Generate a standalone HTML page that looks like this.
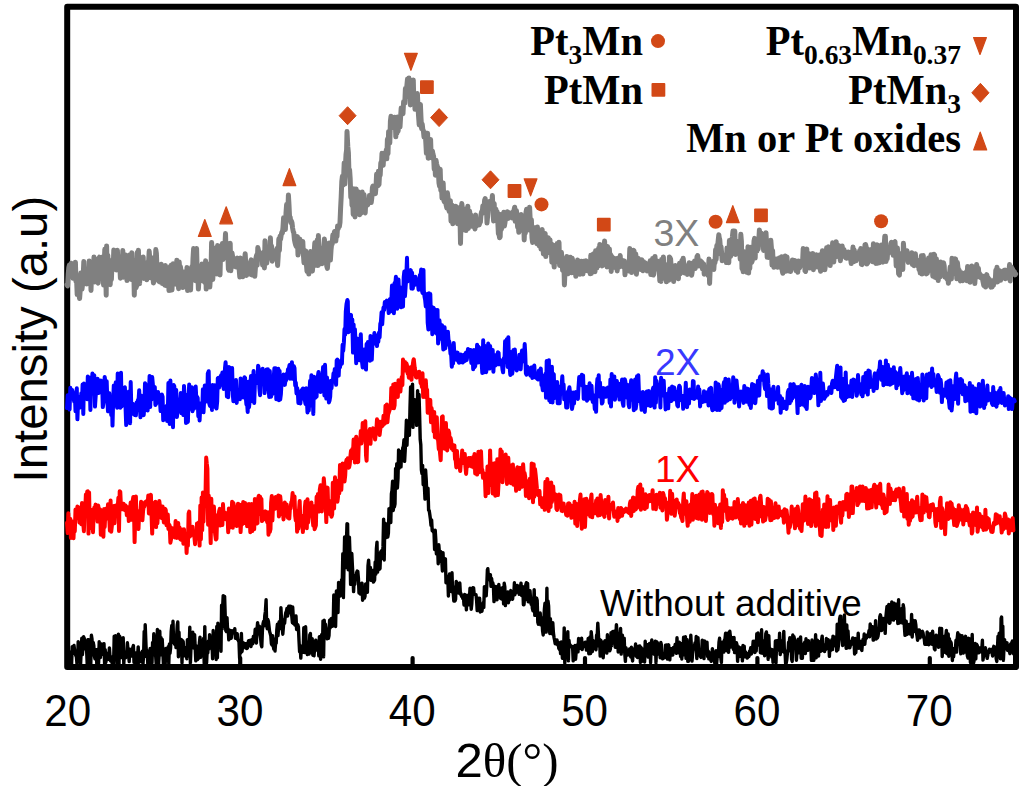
<!DOCTYPE html>
<html><head><meta charset="utf-8"><style>
html,body{margin:0;padding:0;background:#fff;}
body{width:1024px;height:786px;overflow:hidden;}
svg{display:block;}
</style></head><body>
<svg width="1024" height="786" viewBox="0 0 1024 786">
<rect width="1024" height="786" fill="#fff"/>
<rect x="67.2" y="6.8" width="948.8" height="660.3" fill="none" stroke="#000" stroke-width="6" stroke-linejoin="round"/>
<g fill="none" stroke-linejoin="round" stroke-linecap="round">
<polyline points="67.0,284.7 67.6,285.9 68.2,274.3 68.8,267.6 69.4,265.1 70.0,274.2 70.6,266.2 71.2,263.3 71.8,275.7 72.4,275.2 73.0,278.2 73.6,268.0 74.2,275.0 74.8,274.9 75.4,262.2 76.0,281.6 76.6,280.2 77.2,294.6 77.8,280.1 78.4,276.4 79.0,294.6 79.6,298.5 80.2,290.5 80.8,273.0 81.4,279.9 82.0,289.2 82.6,284.3 83.2,276.6 83.8,261.6 84.4,278.8 85.0,273.9 85.6,280.2 86.2,274.4 86.8,284.0 87.4,271.8 88.0,274.7 88.6,279.9 89.2,261.1 89.8,268.6 90.4,267.7 91.0,290.4 91.6,272.5 92.2,280.6 92.8,279.8 93.4,270.0 94.0,256.9 94.6,282.0 95.2,268.1 95.8,278.6 96.4,259.3 97.0,267.1 97.6,282.1 98.2,283.0 98.8,258.5 99.4,257.2 100.0,269.0 100.6,276.7 101.2,270.4 101.8,272.2 102.4,257.0 103.0,277.1 103.6,285.1 104.2,264.1 104.8,249.3 105.4,259.2 106.2,295.3 106.6,245.9 107.2,269.1 107.8,255.2 108.4,267.2 109.0,265.1 109.6,267.8 110.2,284.7 110.8,270.9 111.4,279.4 112.0,263.4 112.6,259.9 113.2,268.1 113.8,249.9 114.4,264.5 115.0,266.6 115.6,253.4 116.2,270.0 116.8,260.2 117.4,250.3 118.0,263.9 118.6,256.4 119.2,260.9 119.8,264.5 120.4,278.2 121.0,266.9 121.6,265.5 122.2,269.4 122.8,250.5 123.4,277.3 124.0,255.2 124.6,269.4 125.2,254.7 125.8,256.1 126.4,261.4 127.0,280.6 127.6,273.2 128.2,260.5 128.8,264.4 129.4,255.1 130.0,268.5 130.6,262.5 131.2,279.4 131.8,252.8 132.4,266.9 133.0,260.2 133.6,262.3 134.3,295.3 134.8,274.8 135.4,280.6 136.0,287.8 136.6,285.9 137.2,252.6 137.8,275.8 138.4,250.2 139.0,267.1 139.6,283.7 140.2,264.3 140.8,262.1 141.4,267.5 142.0,265.9 142.6,265.9 143.2,256.9 143.8,278.4 144.4,276.4 145.0,262.8 145.6,269.6 146.2,274.3 146.8,279.7 147.4,270.7 148.0,274.6 148.6,261.7 149.2,251.1 149.8,258.7 150.4,277.8 151.0,276.9 151.6,266.6 152.2,258.0 152.8,268.3 153.4,283.0 154.0,280.7 154.6,257.6 155.2,265.2 155.8,249.6 156.4,253.5 157.0,268.7 157.6,267.2 158.2,277.9 158.8,281.2 159.4,277.3 160.0,281.9 160.6,267.2 161.2,264.3 161.8,276.7 162.4,283.6 163.0,276.6 163.6,266.3 164.2,275.9 164.8,285.2 165.4,265.4 166.0,280.9 166.6,268.2 167.2,286.1 167.8,281.7 168.4,276.9 169.0,290.6 169.6,269.3 170.2,266.5 170.8,290.2 171.4,264.9 172.0,289.9 172.6,273.6 173.2,263.8 173.8,274.1 174.4,275.4 175.0,276.1 175.6,272.5 176.2,284.3 176.8,260.2 177.4,269.7 178.0,272.6 178.6,288.7 179.2,262.0 179.8,272.8 180.4,266.5 181.0,270.7 181.6,281.3 182.2,279.7 182.8,287.6 183.4,271.9 184.0,278.6 184.6,286.1 185.2,283.9 185.8,273.2 186.4,286.1 187.0,267.4 187.6,290.6 188.2,277.2 188.8,274.4 189.4,277.6 190.0,282.9 190.6,290.0 191.2,270.4 191.8,266.8 192.4,277.0 193.0,258.6 193.6,248.6 194.2,277.8 194.8,261.3 195.4,280.7 196.0,253.8 196.6,248.6 197.2,272.6 197.8,272.2 198.4,289.1 199.0,278.3 199.6,277.0 200.2,280.8 200.8,272.6 201.4,278.0 202.0,264.1 202.6,281.0 203.2,267.2 203.8,269.8 204.4,281.0 205.0,282.7 205.6,260.8 206.2,289.1 206.8,263.5 207.4,279.6 208.0,280.5 208.6,270.9 209.2,269.5 209.8,287.1 210.4,277.6 211.0,271.0 211.6,242.5 212.2,253.2 212.8,279.5 213.4,265.2 214.0,248.0 214.6,251.8 215.2,256.1 215.8,270.2 216.4,265.2 217.0,274.0 217.6,245.5 218.2,272.9 218.8,248.9 219.4,250.8 220.0,275.0 220.6,253.0 221.2,248.8 221.8,246.6 222.4,243.6 223.0,259.4 223.6,256.3 224.2,252.2 224.8,249.1 225.5,233.5 226.0,249.4 226.6,255.2 227.2,256.0 227.8,254.6 228.4,268.9 229.0,270.2 229.6,269.1 230.2,243.2 230.8,270.8 231.4,263.0 232.0,252.9 232.6,256.5 233.2,266.2 233.8,266.3 234.4,263.6 235.0,259.2 235.6,259.8 236.2,267.0 236.8,261.9 237.4,258.1 238.0,261.6 238.6,266.1 239.2,269.7 239.8,277.1 240.4,258.1 241.0,270.0 241.6,265.7 242.2,268.4 242.8,276.8 243.4,276.0 244.0,263.6 244.6,260.3 245.2,253.8 245.8,264.8 246.4,275.4 247.0,263.6 247.6,270.9 248.2,270.9 248.8,268.9 249.4,274.1 250.0,266.3 250.6,261.8 251.2,259.9 251.8,275.0 252.4,266.5 253.0,267.3 253.6,274.9 254.2,261.8 254.8,276.3 255.4,268.1 256.0,257.8 256.6,255.2 257.2,265.2 257.8,247.5 258.4,250.1 259.0,254.9 259.6,256.5 260.2,255.4 260.8,258.2 261.4,253.2 262.0,255.2 262.6,265.0 263.2,260.8 263.8,252.2 264.4,268.0 265.0,240.8 265.6,254.8 266.2,260.1 266.8,263.1 267.4,253.6 268.0,247.9 268.6,258.6 269.2,250.5 269.8,257.4 270.4,237.8 271.0,256.5 271.6,246.1 272.2,261.2 272.8,259.5 273.4,259.2 274.0,250.8 274.6,257.4 275.2,251.8 275.8,256.3 276.4,253.9 277.0,248.6 277.6,265.5 278.2,256.1 278.8,239.0 279.4,250.5 280.0,236.3 280.6,239.2 281.2,235.2 281.8,232.3 282.4,232.9 283.0,227.3 283.6,217.7 284.2,223.4 284.8,223.1 285.4,229.5 286.0,212.9 286.6,204.6 287.2,208.4 287.8,214.3 288.4,195.0 289.0,204.8 289.6,217.9 290.2,217.4 290.8,222.5 291.4,221.1 292.0,222.9 292.6,228.1 293.2,231.4 293.8,232.8 294.4,239.5 295.0,242.6 295.6,244.8 296.2,246.3 296.8,237.9 297.4,236.7 298.0,255.1 298.6,249.3 299.2,252.0 299.8,239.0 300.4,249.5 301.0,246.1 301.6,244.8 302.2,247.7 302.8,241.6 303.4,254.7 304.0,262.7 304.6,250.9 305.2,257.8 305.8,251.1 306.4,264.2 307.0,271.4 307.6,254.5 308.2,262.3 308.8,274.0 309.4,266.6 310.0,264.1 310.6,251.5 311.2,260.6 311.8,267.7 312.4,271.1 313.0,264.3 313.6,253.5 314.2,251.6 314.8,242.8 315.4,246.0 316.0,265.3 316.6,253.0 317.2,240.1 317.8,265.6 318.4,235.6 319.0,264.4 319.6,248.4 320.2,255.0 320.8,258.3 321.4,254.2 322.0,263.7 322.6,251.8 323.2,248.7 323.8,245.7 324.4,239.1 325.0,246.3 325.6,261.7 326.2,260.8 326.8,266.3 327.4,268.4 328.0,261.2 328.6,259.8 329.2,243.0 329.8,249.9 330.4,260.0 331.0,250.3 331.6,244.3 332.2,244.0 332.8,235.1 333.4,237.0 334.0,233.8 334.6,231.5 335.2,241.0 335.8,241.1 336.4,234.7 337.0,236.4 337.6,225.9 338.2,228.7 338.8,225.7 339.4,226.5 340.0,222.3 340.6,208.4 341.2,196.6 341.8,181.6 342.4,176.2 343.0,185.1 343.6,178.1 344.2,162.9 344.8,184.1 345.4,166.5 346.0,154.6 346.6,149.8 347.0,131.5 347.8,146.7 348.4,152.8 349.0,174.2 349.6,169.8 350.2,179.0 350.8,197.5 351.4,187.7 352.0,205.4 352.6,196.1 353.2,214.5 353.8,207.5 354.4,189.1 355.0,216.9 355.6,202.4 356.2,189.1 356.8,205.0 357.4,205.1 358.0,191.7 358.6,197.8 359.2,207.7 359.8,214.7 360.4,212.2 361.0,213.2 361.6,212.6 362.2,192.0 362.8,199.2 363.4,206.6 364.0,194.5 364.6,211.7 365.2,212.9 365.8,202.2 366.4,205.1 367.0,200.4 367.6,205.0 368.2,203.6 368.8,202.5 369.4,195.5 370.0,202.3 370.6,197.0 371.2,202.6 371.8,198.0 372.4,187.6 373.0,186.0 373.6,192.8 374.2,188.1 374.8,192.7 375.4,193.7 376.0,187.1 376.6,174.2 377.2,175.1 377.8,185.8 378.4,171.3 379.0,184.5 379.6,173.3 380.2,175.1 380.8,162.8 381.4,165.7 382.0,153.3 382.6,161.3 383.2,165.3 383.8,154.3 384.4,153.4 385.0,157.5 385.6,157.1 386.2,150.1 386.8,158.8 387.4,139.3 388.0,153.6 388.6,131.6 389.2,131.4 389.8,143.0 390.4,121.4 391.0,116.2 391.6,127.9 392.2,119.5 392.8,117.3 393.4,119.6 394.0,118.5 394.6,117.3 395.2,117.4 395.8,136.8 396.4,121.0 397.0,133.1 397.6,117.0 398.2,130.9 398.8,119.2 399.4,122.5 400.0,127.1 400.6,117.0 401.2,108.0 401.8,111.9 402.4,111.8 403.0,113.6 403.6,101.7 404.2,103.3 404.8,103.1 405.4,88.6 406.0,97.0 406.6,88.4 407.5,79.0 407.8,91.8 408.5,97.0 409.0,78.1 409.4,84.0 410.3,105.0 410.8,84.3 411.2,88.0 412.1,103.0 412.6,96.2 413.3,80.0 413.8,101.5 414.4,93.7 415.0,109.3 415.6,104.8 416.2,95.4 416.8,102.6 417.4,93.6 418.0,107.0 418.6,116.7 419.2,124.9 419.8,110.8 420.4,104.4 421.0,117.9 421.6,128.7 422.2,124.1 422.8,129.4 423.4,130.8 424.0,137.0 424.6,136.6 425.2,132.8 425.8,142.1 426.4,153.3 427.0,140.0 427.6,133.3 428.2,158.3 428.8,150.7 429.4,144.1 430.0,145.4 430.6,139.6 431.2,157.7 431.8,155.0 432.4,151.0 433.0,154.4 433.6,156.2 434.2,169.2 434.8,161.6 435.4,175.2 436.0,160.3 436.6,163.7 437.2,166.3 437.8,167.4 438.4,172.5 439.0,183.1 439.6,186.3 440.2,169.3 440.8,190.4 441.4,182.6 442.0,198.1 442.6,186.0 443.2,183.0 443.8,200.2 444.4,201.7 445.0,194.8 445.6,202.0 446.2,205.3 446.8,207.9 447.4,192.8 448.0,197.4 448.6,208.8 449.2,211.4 449.8,206.7 450.4,200.7 451.0,221.3 451.6,210.4 452.2,205.3 452.8,223.8 453.4,221.0 454.0,220.6 454.6,219.4 455.2,217.6 455.8,206.2 456.4,215.2 457.0,219.4 457.6,223.8 458.2,223.8 458.8,207.7 459.4,213.2 460.0,217.6 460.5,243.5 461.2,211.6 461.8,203.5 462.4,209.1 463.0,227.3 463.6,223.9 464.2,229.8 464.8,210.2 465.4,220.8 466.0,230.6 466.6,208.7 467.2,211.6 467.8,206.3 468.4,228.4 469.0,217.3 469.6,211.0 470.2,215.8 470.8,214.9 471.4,223.5 472.0,226.1 472.6,224.9 473.2,221.8 473.8,225.3 474.4,226.3 475.0,229.0 475.6,215.0 476.2,226.1 476.8,224.3 477.4,224.3 478.0,221.7 478.6,222.2 479.2,224.9 479.8,222.8 480.4,222.0 481.0,214.6 481.6,211.8 482.2,213.6 482.8,206.0 483.4,212.5 484.0,208.4 484.6,200.4 485.2,198.6 485.8,207.6 486.4,206.4 487.0,223.1 487.6,216.3 488.2,204.3 488.8,205.7 489.4,201.5 490.0,202.6 490.6,205.3 491.2,207.0 491.8,202.2 492.4,195.6 493.0,212.9 493.6,221.0 494.2,203.6 494.8,218.3 495.4,213.8 496.0,209.3 496.6,218.2 497.2,211.8 497.8,221.9 498.4,233.9 499.0,234.0 499.6,237.8 500.2,236.7 500.8,214.4 501.4,229.4 502.0,225.7 502.6,226.1 503.2,215.7 503.8,212.2 504.4,226.0 505.0,222.5 505.6,218.4 506.2,215.0 506.8,217.0 507.4,211.7 508.0,218.4 508.6,215.4 509.2,214.1 509.8,213.1 510.4,214.2 511.0,214.8 511.6,212.8 512.2,217.9 512.8,214.9 513.4,213.6 514.0,210.1 514.7,207.2 515.2,221.3 515.8,220.2 516.4,210.5 517.0,218.3 517.6,227.1 518.2,223.6 518.8,232.3 519.4,222.7 520.0,230.6 520.6,229.1 521.2,214.5 521.8,222.8 522.4,224.1 523.0,220.9 523.6,218.5 524.2,239.9 524.8,224.6 525.4,232.9 526.0,212.2 526.6,209.2 527.2,219.8 527.8,228.8 528.4,216.3 529.0,229.9 529.6,207.2 530.2,219.9 530.8,225.3 531.4,219.8 532.0,237.9 532.6,242.4 533.2,234.1 533.8,227.7 534.4,227.8 535.0,231.3 535.6,239.1 536.2,229.0 536.8,243.7 537.4,226.9 538.0,235.0 538.6,243.8 539.2,245.8 539.8,233.8 540.4,242.6 541.0,249.0 541.6,247.5 542.2,229.5 542.8,243.5 543.4,253.9 544.0,234.9 544.6,251.3 545.2,233.5 545.8,256.6 546.4,240.2 547.0,251.8 547.6,252.8 548.2,237.7 548.8,239.3 549.4,250.4 550.0,239.7 550.6,249.9 551.2,243.8 551.8,262.2 552.4,248.1 553.0,244.9 553.6,260.1 554.2,267.1 554.8,253.6 555.4,258.3 556.0,260.7 556.6,250.6 557.2,243.6 557.8,261.6 558.4,252.5 559.0,242.2 559.6,265.4 560.2,261.2 560.8,260.0 561.4,252.3 562.0,259.7 562.6,270.4 563.2,270.9 563.8,258.4 564.4,285.0 565.0,271.8 565.6,269.1 566.2,273.8 566.8,256.5 567.4,271.2 568.0,273.7 568.6,268.1 569.2,262.6 569.8,266.8 570.4,257.3 571.0,262.2 571.6,272.8 572.2,258.3 572.8,261.2 573.4,272.0 574.0,265.4 574.6,266.1 575.2,263.1 575.8,276.3 576.4,265.1 577.0,266.5 577.6,260.0 578.2,270.9 578.8,266.9 579.4,269.0 580.0,274.2 580.6,267.7 581.2,261.2 581.8,262.1 582.4,267.6 583.0,274.0 583.6,261.3 584.2,266.3 584.8,266.3 585.4,270.5 586.0,260.7 586.6,267.8 587.2,270.6 587.8,264.6 588.4,263.7 589.0,268.8 589.6,268.4 590.2,273.7 590.8,255.3 591.4,273.4 592.0,261.9 592.6,254.6 593.2,259.2 593.8,253.7 594.4,261.9 595.0,271.8 595.6,250.8 596.2,253.3 596.8,268.0 597.4,258.4 598.0,266.1 598.6,248.3 599.2,257.4 599.8,244.4 600.4,249.2 601.0,260.6 601.6,263.3 602.2,265.9 602.8,253.1 603.4,246.6 604.0,250.2 604.6,241.0 605.2,263.0 605.8,261.7 606.4,247.3 607.0,267.0 607.6,246.6 608.2,261.9 608.8,253.1 609.4,248.9 610.0,264.4 610.6,254.4 611.2,271.4 611.8,256.5 612.4,263.4 613.0,259.4 613.6,263.3 614.2,258.3 614.8,267.4 615.4,265.9 616.0,262.4 616.6,261.1 617.2,270.9 617.8,258.2 618.4,260.1 619.0,267.2 619.6,263.4 620.2,255.6 620.8,263.6 621.4,262.8 622.0,260.3 622.6,266.6 623.2,260.7 623.8,265.4 624.4,260.9 625.0,274.8 625.6,264.2 626.2,268.5 626.8,267.3 627.4,270.4 628.0,263.5 628.6,270.9 629.2,265.2 629.8,248.5 630.4,266.7 631.0,250.3 631.6,272.6 632.2,265.4 632.8,260.1 633.4,250.2 634.0,250.8 634.6,254.5 635.2,260.7 635.8,254.1 636.4,274.3 637.0,266.9 637.6,263.6 638.2,258.2 638.8,262.5 639.4,263.4 640.0,262.5 640.6,265.1 641.2,269.6 641.8,259.8 642.4,267.4 643.0,270.7 643.6,261.8 644.2,266.1 644.8,265.5 645.4,263.0 646.0,270.3 646.6,266.0 647.2,271.0 647.8,268.6 648.4,266.4 649.0,268.5 649.6,266.1 650.2,260.8 650.8,274.6 651.4,269.8 652.0,274.6 652.6,258.6 653.2,275.1 653.8,274.1 654.4,268.2 655.0,256.4 655.6,269.6 656.2,263.1 656.8,267.2 657.4,269.3 658.0,261.3 658.6,267.8 659.2,269.0 659.8,280.8 660.4,268.1 661.0,281.4 661.6,259.5 662.2,267.8 662.8,278.5 663.4,256.9 664.0,273.6 664.6,272.1 665.2,264.5 665.8,267.4 666.4,281.8 667.0,266.0 667.6,272.0 668.2,273.5 668.8,280.2 669.4,256.9 670.0,257.7 670.6,259.0 671.2,268.1 671.8,275.4 672.4,276.9 673.0,268.3 673.6,281.5 674.2,269.9 674.8,275.1 675.4,265.5 676.0,275.7 676.6,266.1 677.2,277.1 677.8,275.2 678.4,278.8 679.0,267.6 679.6,263.2 680.2,273.8 680.8,270.6 681.4,265.5 682.0,260.4 682.6,272.3 683.2,258.2 683.8,264.2 684.4,272.9 685.0,265.4 685.6,270.0 686.2,270.5 686.8,271.4 687.4,274.4 688.0,272.4 688.6,267.1 689.2,262.8 689.8,268.3 690.4,266.7 691.0,272.1 691.6,275.3 692.2,271.8 692.8,263.1 693.4,266.5 694.0,264.5 694.6,261.0 695.2,268.5 695.8,264.7 696.4,263.5 697.0,256.7 697.6,255.5 698.2,259.0 698.8,265.9 699.4,261.1 700.0,261.7 700.6,261.0 701.2,263.1 701.8,262.1 702.4,268.7 703.0,263.6 703.6,263.9 704.2,274.2 704.8,271.9 705.4,273.1 706.0,273.3 706.6,269.6 707.2,273.0 707.8,275.2 708.4,272.2 709.0,259.1 709.6,283.5 710.2,268.9 710.8,267.1 711.4,267.6 712.0,263.8 712.6,261.8 713.2,265.5 713.8,269.5 714.4,260.9 715.0,262.6 715.6,249.7 716.2,259.3 716.8,245.5 717.4,254.1 718.0,242.6 718.8,234.7 719.2,237.5 719.8,239.9 720.4,248.2 721.0,246.5 721.6,252.6 722.2,260.8 722.8,254.4 723.4,258.7 724.0,258.9 724.6,255.1 725.2,256.9 725.8,257.6 726.4,262.6 727.0,247.9 727.6,250.8 728.2,250.1 728.8,262.8 729.4,240.6 730.0,251.3 730.6,256.4 731.2,254.0 731.8,240.7 732.4,236.8 733.0,230.9 733.6,240.3 734.2,243.1 734.8,231.1 735.4,254.4 736.0,247.9 736.6,244.1 737.2,241.4 737.8,251.8 738.4,244.3 739.0,252.6 739.6,242.7 740.2,259.2 740.8,234.3 741.4,241.2 742.0,268.8 742.6,265.3 743.2,271.8 743.8,251.4 744.4,265.4 745.0,267.9 745.6,267.2 746.2,257.0 746.8,272.3 747.4,262.5 748.0,246.7 748.6,273.1 749.2,259.0 749.8,268.4 750.4,250.2 751.0,247.4 751.6,262.5 752.2,261.1 752.8,247.1 753.4,254.7 754.0,241.0 754.6,238.4 755.2,258.1 755.8,239.4 756.4,251.1 757.0,251.1 757.6,244.6 758.2,249.1 758.8,240.6 759.4,230.0 760.0,237.4 760.6,240.1 761.2,240.3 761.8,233.6 762.4,239.1 763.0,237.6 763.6,250.4 764.2,249.1 764.8,236.7 765.4,247.0 766.0,232.7 766.6,245.1 767.2,257.3 767.8,247.2 768.4,257.4 769.0,245.5 769.6,253.1 770.2,253.5 770.8,240.3 771.4,247.6 772.0,265.1 772.6,250.6 773.2,264.4 773.8,267.3 774.4,259.5 775.0,266.2 775.6,263.7 776.2,259.0 776.8,267.0 777.4,267.2 778.0,259.0 778.6,263.3 779.2,258.0 779.8,265.7 780.4,267.3 781.0,260.7 781.6,256.7 782.2,270.4 782.8,273.3 783.4,260.1 784.0,265.3 784.6,260.9 785.2,256.0 785.8,271.2 786.4,264.9 787.0,256.9 787.6,269.9 788.2,267.5 788.8,270.9 789.4,267.8 790.0,267.0 790.6,271.5 791.2,263.4 791.8,266.0 792.4,259.9 793.0,260.3 793.6,266.7 794.2,267.1 794.8,260.6 795.4,268.2 796.0,270.5 796.6,262.7 797.2,265.0 797.8,272.2 798.4,261.1 799.0,267.1 799.6,267.8 800.2,264.0 800.8,263.2 801.4,265.3 802.0,262.9 802.6,261.4 803.2,248.5 803.8,260.9 804.4,252.7 805.0,270.8 805.6,271.4 806.2,268.0 806.8,248.9 807.4,267.3 808.0,261.5 808.6,253.9 809.2,253.7 809.8,268.1 810.4,258.0 811.0,261.6 811.6,262.6 812.2,267.8 812.8,253.5 813.4,269.7 814.0,258.2 814.6,260.7 815.2,266.6 815.8,265.4 816.4,254.8 817.0,267.0 817.6,263.0 818.2,258.4 818.8,260.8 819.4,255.0 820.0,267.6 820.6,271.3 821.2,257.9 821.8,258.1 822.4,250.7 823.0,254.9 823.6,251.8 824.2,258.6 824.8,269.8 825.4,265.4 826.0,264.4 826.6,247.8 827.2,262.3 827.8,248.5 828.4,246.8 829.0,259.9 829.6,252.6 830.2,265.6 830.8,254.2 831.4,249.9 832.0,257.5 832.6,242.8 833.2,256.0 833.8,261.9 834.4,249.3 835.0,246.3 835.6,257.1 836.2,241.7 836.8,251.1 837.4,245.8 838.0,251.5 838.6,245.6 839.2,254.4 839.8,254.7 840.4,260.7 841.0,250.8 841.6,255.6 842.2,246.1 842.8,250.7 843.4,256.3 844.0,249.6 844.6,255.8 845.2,252.3 845.8,258.0 846.4,258.2 847.0,253.1 847.6,258.0 848.2,252.1 848.8,254.9 849.4,256.6 850.0,257.2 850.6,257.8 851.2,263.5 851.8,252.0 852.4,255.0 853.0,247.1 853.6,261.8 854.2,250.0 854.8,253.5 855.4,254.3 856.0,260.8 856.6,256.5 857.2,256.8 857.8,259.1 858.4,256.0 859.0,258.1 859.6,250.8 860.2,253.8 860.8,248.5 861.4,264.3 862.0,264.6 862.6,262.6 863.2,259.9 863.8,252.0 864.4,260.6 865.0,244.6 865.6,244.5 866.2,247.1 866.8,264.1 867.4,255.6 868.0,262.6 868.6,249.4 869.2,258.0 869.8,260.2 870.4,257.5 871.0,253.7 871.6,258.3 872.2,249.0 872.8,261.8 873.4,243.8 874.0,246.1 874.6,251.5 875.2,245.3 875.8,263.5 876.4,256.3 877.0,244.8 877.6,263.2 878.2,261.4 878.8,247.2 879.4,262.7 880.0,259.5 880.6,245.7 881.2,245.1 881.8,252.0 882.4,258.6 883.0,262.1 883.6,261.5 884.2,245.2 884.8,236.2 885.4,236.2 886.0,261.6 886.6,257.8 887.2,258.9 887.8,248.9 888.4,249.7 889.0,252.6 889.6,252.2 890.2,249.7 890.8,243.7 891.4,242.3 892.0,250.0 892.6,248.7 893.2,255.3 893.8,245.2 894.4,242.3 895.0,241.7 895.6,252.3 896.2,266.0 896.8,251.0 897.4,247.9 898.0,259.5 898.6,273.7 899.4,275.0 899.8,267.6 900.4,267.4 901.0,253.5 901.6,257.2 902.2,260.0 902.8,269.4 903.4,243.3 904.0,251.5 904.6,257.6 905.2,253.6 905.8,254.3 906.4,253.9 907.0,250.7 907.6,258.4 908.2,262.4 908.8,254.8 909.4,258.8 910.0,262.0 910.6,254.6 911.2,257.3 911.8,252.7 912.4,264.5 913.0,264.6 913.6,258.2 914.2,265.7 914.8,263.5 915.4,253.8 916.0,263.2 916.6,262.7 917.2,264.4 917.8,265.9 918.4,260.8 919.0,269.5 919.6,265.8 920.2,273.0 920.8,263.9 921.4,255.7 922.0,274.1 922.6,268.4 923.2,255.6 923.8,261.6 924.4,260.5 925.0,271.8 925.6,261.8 926.2,273.9 926.8,262.8 927.4,273.2 928.0,262.1 928.6,257.9 929.2,270.2 929.8,264.3 930.4,269.4 931.0,254.7 931.6,258.2 932.2,262.9 932.8,276.2 933.4,267.9 934.0,254.3 934.6,254.9 935.2,277.5 935.8,269.4 936.4,258.8 937.0,275.2 937.6,274.8 938.2,280.5 938.8,271.4 939.4,267.2 940.0,277.0 940.6,262.1 941.2,268.8 941.8,265.2 942.4,268.6 943.0,263.8 943.6,262.9 944.2,265.7 944.8,277.1 945.4,274.8 946.0,274.4 946.6,278.2 947.2,279.3 947.8,276.5 948.4,283.2 949.0,273.4 949.6,273.2 950.2,266.9 950.8,277.0 951.4,278.9 952.0,258.3 952.6,273.9 953.2,260.5 953.8,269.8 954.4,267.6 955.0,258.8 955.6,259.0 956.2,266.9 956.8,278.8 957.4,262.4 958.0,268.1 958.6,269.5 959.2,270.3 959.8,278.6 960.4,280.9 961.0,273.2 961.6,275.7 962.2,273.0 962.8,280.7 963.4,275.0 964.0,277.8 964.6,275.6 965.2,279.3 965.8,275.2 966.4,271.7 967.0,280.8 967.6,266.4 968.2,273.9 968.8,270.6 969.4,267.2 970.0,282.2 970.6,274.7 971.2,269.6 971.8,266.0 972.4,275.1 973.0,272.5 973.6,270.6 974.2,267.5 974.8,283.6 975.4,274.0 976.0,271.2 976.6,264.5 977.2,267.7 977.8,276.8 978.4,268.3 979.0,276.3 979.6,273.4 980.2,276.9 980.8,277.7 981.4,275.7 982.0,277.6 982.6,279.4 983.2,282.5 983.8,285.5 984.4,284.0 985.0,276.0 985.6,287.0 986.2,278.8 986.8,274.6 987.4,278.8 988.0,277.5 988.6,280.2 989.2,279.1 989.8,279.8 990.4,286.2 991.0,287.2 991.6,282.3 992.2,287.0 992.8,284.4 993.4,285.4 994.0,280.4 994.6,279.5 995.2,282.5 995.8,270.2 996.4,276.4 997.0,267.2 997.6,282.0 998.2,276.9 998.8,279.1 999.4,273.3 1000.0,270.9 1000.6,280.2 1001.2,273.0 1001.8,274.0 1002.4,275.1 1003.0,276.9 1003.6,275.0 1004.2,270.2 1004.8,270.1 1005.4,278.8 1006.0,273.1 1006.6,273.4 1007.2,270.4 1007.8,278.0 1008.4,275.7 1009.0,270.4 1009.6,264.6 1010.2,281.0 1010.8,269.3 1011.4,267.0 1012.0,270.7 1012.6,269.0 1013.2,273.3 1013.8,272.3 1014.4,271.7 1015.0,274.9 1015.6,273.9" stroke="#808080" stroke-width="5.0"/>
<polyline points="67.0,408.1 67.7,395.2 68.3,403.2 69.0,402.2 69.6,409.5 70.3,387.7 70.9,398.3 71.6,394.5 72.2,390.1 72.9,393.1 73.5,398.0 74.2,401.5 74.8,392.9 75.5,411.2 76.1,398.4 76.8,388.3 77.4,419.3 78.1,400.8 78.7,397.1 79.4,407.8 80.0,406.6 80.7,403.7 81.3,393.2 82.0,402.9 82.6,384.5 83.3,414.0 83.9,383.6 84.6,394.1 85.2,395.4 85.9,396.6 86.5,390.9 87.2,399.2 87.8,376.5 88.5,390.1 89.1,389.1 89.8,385.3 90.4,410.0 91.1,377.3 91.7,388.9 92.4,373.6 93.0,393.4 93.7,374.9 94.3,375.5 95.0,406.6 95.6,397.1 96.3,390.0 96.9,391.6 97.6,378.7 98.2,382.3 98.9,393.0 99.5,380.8 100.2,391.9 100.8,380.4 101.5,391.9 102.1,381.5 102.8,407.1 103.4,403.0 104.1,386.2 104.7,377.0 105.4,382.1 106.0,393.2 106.7,381.2 107.3,400.2 108.0,411.3 108.6,397.6 109.3,393.2 109.9,411.7 110.6,397.3 111.2,415.0 111.9,399.1 112.5,425.6 113.2,398.9 113.8,385.4 114.5,401.9 115.1,388.8 115.8,382.2 116.4,394.1 117.1,407.7 117.7,373.6 118.4,391.4 118.7,375.0 119.7,389.6 120.3,407.7 121.0,372.7 121.6,406.5 122.3,390.5 122.9,397.5 123.6,391.9 124.2,390.4 124.9,387.2 125.5,406.0 126.2,425.1 126.8,420.0 127.5,416.8 128.1,411.5 128.8,391.5 129.4,411.1 130.1,423.2 130.7,382.0 131.4,412.2 132.0,413.8 132.7,403.8 133.3,409.0 134.0,414.1 134.6,414.9 135.3,412.9 135.9,415.3 136.6,402.4 137.2,408.2 137.9,399.9 138.5,401.1 139.2,390.2 139.8,406.2 140.5,417.3 141.1,395.4 141.8,402.3 142.4,408.7 143.1,400.4 143.7,415.2 144.4,405.6 145.0,383.3 145.7,384.6 146.3,408.7 147.0,405.8 147.6,410.6 148.3,397.8 148.9,395.9 149.6,375.9 150.2,407.0 150.9,379.1 151.5,399.5 152.2,377.1 152.8,383.6 153.5,393.5 154.1,388.6 154.8,387.0 155.4,404.9 156.1,403.8 156.7,402.1 157.4,395.8 158.0,391.9 158.7,395.9 159.3,395.8 160.0,401.7 160.6,411.0 161.3,401.2 161.9,394.5 162.6,396.9 163.2,420.2 163.9,407.4 164.5,408.2 165.2,408.6 165.8,412.6 166.5,406.1 167.1,421.0 167.8,415.7 168.4,383.1 169.1,400.6 169.7,423.9 170.4,380.5 171.0,404.0 171.7,421.6 172.3,404.1 173.0,427.2 173.6,384.9 174.3,386.4 174.9,405.5 175.6,396.1 176.2,390.1 176.9,417.1 177.5,411.7 178.2,406.9 178.8,399.5 179.5,410.3 180.1,403.5 180.8,393.1 181.4,413.3 182.1,410.6 182.7,405.5 183.4,415.1 184.0,385.9 184.7,400.9 185.3,394.6 186.0,423.0 186.6,410.2 187.3,422.2 187.9,421.7 188.6,395.6 189.2,384.6 189.9,408.7 190.5,397.6 191.2,399.8 191.8,387.2 192.5,411.3 193.1,405.7 193.8,409.0 194.4,408.0 195.1,392.0 195.7,386.5 196.4,401.2 197.0,396.8 197.7,398.0 198.3,416.3 199.0,403.0 199.6,420.5 200.3,405.8 200.9,411.3 201.6,408.9 202.2,411.8 202.9,389.2 203.5,412.3 204.2,399.4 204.8,385.4 205.5,399.6 206.1,394.3 206.8,401.6 207.4,393.2 207.8,373.4 208.7,371.2 209.4,404.0 210.0,406.0 210.7,400.6 211.3,398.6 212.0,409.9 212.6,384.9 213.3,407.1 213.9,399.6 214.6,385.3 215.2,401.3 215.9,399.3 216.5,408.6 217.2,401.2 217.8,378.2 218.5,377.8 219.1,387.5 219.8,385.4 220.4,380.5 221.1,375.2 221.7,381.7 222.4,372.4 223.0,374.5 223.7,389.0 224.3,381.7 225.0,368.3 225.6,362.3 226.3,375.1 226.9,396.4 227.6,370.9 228.2,397.2 228.9,367.1 229.5,375.6 230.2,389.2 230.8,368.0 231.5,382.8 232.1,367.9 232.8,394.6 233.4,401.3 234.1,386.7 234.7,394.5 235.4,389.3 236.0,380.1 236.7,402.9 237.3,395.1 238.0,395.6 238.6,392.1 239.3,390.2 239.9,399.2 240.6,378.5 241.2,387.6 241.9,386.9 242.5,388.9 243.2,397.4 243.8,384.4 244.5,377.3 245.1,378.0 245.8,397.1 246.4,404.4 247.1,403.2 247.7,411.9 248.4,381.7 249.0,407.3 249.7,400.9 250.3,386.0 251.0,375.9 251.6,400.9 252.3,376.1 252.9,381.4 253.6,371.1 254.2,403.0 254.9,382.9 255.5,376.3 256.2,379.0 256.8,379.0 257.5,383.1 258.1,365.7 258.8,368.8 259.4,388.6 260.1,395.2 260.7,371.9 261.4,384.6 262.0,377.4 262.7,368.8 263.3,380.8 264.0,373.3 264.6,393.1 265.3,382.2 265.9,383.7 266.6,369.5 267.2,385.2 267.9,369.2 268.5,385.6 269.2,397.0 269.8,371.1 270.5,391.4 271.1,396.7 271.8,380.7 272.4,394.0 273.1,383.8 273.7,378.0 274.4,368.2 275.0,371.9 275.7,368.2 276.3,399.2 277.0,386.7 277.6,382.0 278.3,368.8 278.9,400.3 279.6,370.9 280.2,399.4 280.9,393.9 281.5,383.5 282.2,377.5 282.8,381.5 283.5,374.6 284.1,383.3 284.8,384.8 285.4,381.2 286.1,380.3 286.7,373.8 287.4,375.3 288.0,369.3 288.7,369.6 289.5,365.0 290.0,378.7 290.6,372.5 291.3,374.0 291.9,362.2 292.6,378.8 293.2,369.0 293.9,366.3 294.5,368.2 295.2,385.5 295.8,382.6 296.5,393.4 297.1,387.9 297.8,391.5 298.4,403.0 299.1,398.9 299.7,398.9 300.4,403.4 301.0,396.3 301.7,390.0 302.3,391.7 302.9,388.4 303.6,398.6 304.2,394.4 304.9,400.5 305.5,403.9 306.2,388.3 306.8,398.5 307.5,412.5 308.1,397.3 308.8,410.5 309.4,392.8 310.1,380.8 310.7,391.9 311.4,375.3 312.0,405.6 312.7,387.2 313.3,413.9 314.0,376.7 314.6,395.7 315.3,397.9 315.9,389.6 316.6,396.7 317.2,380.9 317.9,376.1 318.5,372.0 319.2,381.5 319.8,377.7 320.5,392.0 321.1,383.1 321.8,378.3 322.4,376.6 323.1,366.9 323.7,381.8 324.4,395.5 325.0,364.7 325.7,383.4 326.3,398.6 327.0,377.5 327.6,390.1 328.3,382.3 328.9,402.5 329.6,400.3 330.2,396.6 330.9,380.7 331.5,388.3 332.2,380.3 332.8,381.8 333.5,373.3 334.1,376.4 334.8,369.0 335.4,375.7 336.1,384.8 336.7,360.4 337.4,359.5 338.0,374.4 338.7,375.6 339.3,361.9 340.0,367.3 340.6,362.6 341.3,360.5 341.9,363.8 342.6,344.7 343.2,350.9 343.9,342.2 344.5,329.0 345.2,334.6 345.8,311.4 346.5,304.2 347.4,300.0 347.8,301.3 348.4,332.3 349.1,331.2 349.7,317.6 350.4,317.2 351.0,314.9 351.7,331.2 352.3,319.6 353.0,352.6 353.6,324.4 354.3,343.3 354.9,329.2 355.6,343.0 356.2,363.3 356.9,342.7 357.5,338.7 358.2,343.2 358.8,353.7 359.5,360.2 360.1,347.3 360.8,334.3 361.4,354.7 362.1,362.6 362.7,367.6 363.4,354.9 364.0,355.5 364.7,349.3 365.3,362.1 366.0,369.6 366.6,344.1 367.3,355.9 367.9,342.0 368.6,345.9 369.2,352.4 369.9,360.7 370.5,336.0 371.2,339.2 371.8,359.7 372.5,342.5 373.1,344.4 373.8,340.2 374.4,333.1 375.1,341.6 375.7,343.1 376.4,338.1 377.0,346.0 377.7,335.3 378.3,341.8 379.0,332.6 379.6,337.3 380.3,323.8 380.9,321.9 381.6,312.2 382.2,324.3 382.9,313.6 383.5,307.4 384.2,309.8 384.8,302.1 385.5,307.1 386.1,304.6 386.8,300.6 387.4,306.3 388.1,303.5 388.7,313.1 389.4,300.1 390.0,299.1 390.7,311.4 391.3,301.6 392.0,285.5 392.6,302.2 393.3,289.2 393.9,313.2 394.6,282.9 395.2,285.4 395.9,276.8 396.5,284.5 397.2,308.8 397.8,290.3 398.5,279.5 399.1,294.7 399.8,287.0 400.4,289.8 401.1,307.3 401.7,307.0 402.4,306.7 403.0,306.5 403.7,277.2 404.3,271.6 405.0,296.0 405.6,286.8 406.3,277.4 407.0,257.7 407.6,281.5 408.2,279.6 408.9,276.1 409.5,279.0 410.2,271.5 410.8,270.2 411.5,288.6 412.1,272.8 412.8,288.7 413.4,281.7 414.1,278.0 414.7,284.9 415.4,276.8 416.0,279.3 416.7,279.9 417.3,281.6 418.0,284.3 418.6,289.8 419.3,285.2 419.9,274.9 420.6,275.9 421.2,269.4 421.9,290.2 422.5,292.9 423.5,270.0 423.8,290.2 424.5,296.5 425.1,299.5 425.8,306.5 426.4,305.3 427.1,294.0 427.7,322.9 428.4,329.6 429.0,293.3 429.7,308.3 430.3,294.0 431.0,320.1 431.6,306.8 432.3,334.2 432.9,333.3 433.6,307.8 434.2,310.0 434.9,310.7 435.5,331.9 436.2,310.1 436.8,333.7 437.5,309.9 438.1,343.5 438.8,337.0 439.4,320.2 440.1,326.6 440.7,336.8 441.4,338.9 442.0,325.2 442.7,338.9 443.3,349.5 444.0,334.3 444.6,327.3 445.3,348.4 445.9,340.7 446.6,340.6 447.2,344.5 447.9,331.7 448.5,340.2 449.2,341.3 449.8,345.7 450.5,353.9 451.1,353.4 451.8,366.7 452.4,360.7 453.1,363.5 453.7,342.9 454.4,354.6 455.0,355.4 455.7,357.8 456.3,359.6 457.0,352.5 457.6,352.6 458.3,361.0 458.9,362.7 459.6,362.6 460.2,356.3 460.9,354.7 461.5,357.8 462.2,358.8 462.8,362.6 463.5,356.5 464.1,354.8 464.8,361.0 465.4,353.8 466.1,352.5 466.7,360.0 467.4,355.5 468.0,348.9 468.7,354.4 469.3,352.8 470.0,354.4 470.6,350.0 471.3,362.9 471.9,354.4 472.6,352.5 473.2,369.2 473.9,350.1 474.5,367.2 475.2,366.1 475.8,357.6 476.5,362.7 477.1,344.7 477.8,362.6 478.4,346.8 479.1,348.1 479.7,362.0 480.4,348.2 481.0,359.7 481.7,363.5 482.3,372.9 483.2,340.3 483.6,372.5 484.3,345.5 484.9,351.3 485.6,365.5 486.2,372.2 486.9,362.2 487.5,349.8 488.2,343.6 488.8,345.5 489.5,368.6 490.1,345.9 490.8,354.2 491.4,363.4 492.1,361.5 492.7,350.0 493.4,371.7 494.0,359.1 494.7,360.3 495.3,365.5 496.0,355.1 496.6,364.6 497.3,357.8 497.9,352.3 498.6,352.8 499.2,364.3 499.9,362.9 500.5,361.7 501.2,360.5 501.8,362.6 502.5,369.5 503.1,372.3 503.8,358.3 504.4,362.9 505.1,341.2 505.7,341.1 506.4,345.5 506.8,339.3 507.7,367.0 508.3,337.2 509.0,363.8 509.6,366.4 510.3,374.9 510.9,351.9 511.6,363.3 512.2,373.7 512.9,368.3 513.5,349.9 514.2,356.0 514.8,349.4 515.5,360.4 516.1,365.5 516.8,370.4 517.4,364.5 518.1,366.8 518.7,368.4 519.4,354.7 520.0,366.3 520.7,369.2 521.3,358.7 522.0,350.6 522.6,359.1 523.3,357.8 523.9,361.4 524.7,344.0 525.2,353.4 525.9,373.4 526.5,374.7 527.2,366.5 527.8,369.2 528.5,373.1 529.1,368.8 529.8,372.5 530.4,375.5 531.1,367.4 531.7,375.4 532.4,377.9 533.0,367.1 533.7,373.0 534.3,365.6 535.0,376.5 535.6,377.6 536.3,373.3 536.9,376.6 537.6,379.1 538.2,379.5 538.9,370.4 539.5,375.0 540.2,370.1 540.8,368.5 541.5,385.1 542.1,384.8 542.8,390.2 543.4,387.6 544.1,375.8 544.7,382.7 545.4,373.8 546.0,397.7 546.7,361.0 547.3,385.7 548.0,370.2 548.9,360.3 549.3,400.4 549.9,370.6 550.6,402.1 551.2,398.8 551.9,366.7 552.5,402.5 553.2,373.7 553.8,374.3 554.5,398.0 555.1,384.6 555.8,393.3 556.4,390.9 557.1,381.9 557.7,403.2 558.4,403.2 559.0,389.0 559.7,403.2 560.3,386.6 561.0,390.5 561.6,385.6 562.3,376.3 562.9,388.7 563.6,384.5 564.2,399.3 564.9,398.4 565.5,392.9 566.2,407.4 566.8,399.0 567.5,407.4 568.1,391.4 568.8,390.6 569.4,387.3 570.1,393.7 570.7,392.2 571.4,395.0 572.0,409.0 572.7,404.6 573.3,392.6 574.0,403.5 574.6,395.0 575.3,392.8 575.9,392.0 576.6,393.0 577.2,397.0 577.9,398.9 578.5,387.4 579.2,377.1 579.8,383.4 580.5,381.2 581.1,381.8 581.8,374.7 582.4,385.6 583.1,375.5 583.7,398.7 584.4,395.6 585.0,396.6 585.7,386.8 586.3,394.2 587.0,400.7 587.6,391.6 588.3,386.6 588.9,392.4 589.6,383.3 590.2,398.6 590.9,395.8 591.5,385.7 592.2,397.7 592.8,401.9 593.5,398.7 594.1,399.7 594.8,409.1 595.4,395.0 596.1,411.8 596.7,387.9 597.4,378.8 598.0,385.8 598.7,375.3 599.3,396.5 600.0,382.5 600.6,395.1 601.3,394.1 601.9,403.6 602.6,402.2 603.2,387.9 603.9,390.2 604.5,390.3 605.2,388.6 605.8,396.8 606.5,394.5 607.1,390.6 607.8,387.6 608.4,388.4 609.1,391.3 609.7,402.9 610.4,379.4 611.0,406.4 611.7,374.0 612.3,396.0 613.0,376.7 613.6,386.9 614.3,376.4 614.9,399.8 615.6,394.0 616.2,383.9 616.9,381.0 617.5,394.5 618.2,395.4 618.8,383.8 619.5,399.6 620.1,394.1 620.8,384.0 621.4,386.7 622.1,379.4 622.7,402.6 623.4,405.8 624.0,391.8 624.7,379.2 625.3,381.1 626.0,390.8 626.6,384.4 627.3,397.7 627.9,385.0 628.6,404.3 629.2,407.2 629.9,388.6 630.5,386.6 631.2,380.3 631.8,395.6 632.5,399.8 633.1,384.1 633.8,410.2 634.4,387.0 635.1,379.6 635.7,408.7 636.4,403.8 637.0,376.2 637.7,385.4 638.3,375.3 639.0,393.9 639.6,401.1 640.3,392.5 640.9,401.4 641.6,409.8 642.2,397.9 642.9,391.9 643.5,395.5 644.2,406.6 644.8,411.9 645.5,398.3 646.1,401.8 646.8,391.4 647.4,392.4 648.1,405.3 648.7,391.1 649.4,396.9 650.0,395.9 650.7,406.0 651.3,396.4 652.0,393.1 652.6,390.3 653.3,387.5 653.9,403.3 654.6,407.6 655.2,377.2 655.9,402.6 656.5,380.8 657.2,384.5 657.8,387.8 658.5,386.7 659.1,387.7 659.8,385.7 660.4,407.5 661.1,377.8 661.7,386.1 662.4,385.2 663.0,395.4 663.7,380.7 664.3,393.9 665.0,395.5 665.6,409.4 666.3,401.1 666.9,394.1 667.6,395.6 668.2,408.3 668.9,393.5 669.5,388.5 670.2,389.1 670.8,391.2 671.5,401.0 672.1,386.4 672.8,389.8 673.4,394.1 674.1,387.4 674.7,399.3 675.4,391.6 676.0,398.2 676.7,398.3 677.3,405.4 678.0,406.4 678.6,388.7 679.3,385.7 679.9,386.7 680.6,399.2 681.2,400.1 681.9,396.2 682.5,396.0 683.2,408.8 683.8,403.2 684.5,397.4 685.1,400.3 685.8,382.7 686.4,404.3 687.1,407.1 687.7,395.3 688.4,390.5 689.0,403.4 689.7,389.5 690.3,393.9 691.0,397.6 691.6,391.4 692.3,398.2 692.9,381.0 693.6,381.3 694.2,398.9 694.9,397.5 695.5,395.4 696.2,391.2 696.8,394.5 697.5,397.6 698.1,386.5 698.8,396.6 699.4,389.5 700.1,406.4 700.7,397.6 701.4,397.0 702.0,402.1 702.7,401.6 703.3,401.7 704.0,391.2 704.6,396.5 705.3,401.3 705.9,397.1 706.6,396.5 707.2,392.3 707.9,397.4 708.5,405.4 709.2,389.2 709.8,388.5 710.5,389.9 711.1,387.9 711.8,407.2 712.4,410.2 713.1,402.8 713.7,399.9 714.4,409.3 715.0,406.5 715.7,382.4 716.3,394.7 717.0,409.9 717.6,389.0 718.3,384.2 718.9,386.0 719.6,409.9 720.2,389.5 720.9,399.5 721.5,408.1 722.2,397.8 722.8,396.7 723.5,385.1 724.1,381.9 724.8,402.8 725.4,378.8 726.1,399.7 726.7,399.8 727.4,400.6 728.0,385.1 728.7,379.6 729.3,388.4 730.0,399.2 730.6,393.0 731.3,392.7 731.9,388.0 732.6,397.0 733.2,377.2 733.9,380.9 734.5,402.8 735.2,394.6 735.8,397.3 736.5,380.4 737.1,387.1 737.8,391.3 738.4,394.9 739.1,406.5 739.7,393.0 740.4,398.9 741.0,391.6 741.7,395.2 742.3,399.4 743.0,399.2 743.6,402.9 744.3,386.1 744.9,400.2 745.6,397.3 746.2,388.5 746.9,401.8 747.5,388.7 748.2,390.3 748.8,396.8 749.5,404.9 750.1,389.2 750.8,408.0 751.4,397.8 752.1,384.1 752.7,402.5 753.4,393.8 754.0,385.0 754.7,390.9 755.3,403.2 756.0,394.5 756.6,389.7 757.3,396.0 757.9,380.7 758.6,392.3 759.2,395.5 759.9,377.4 760.5,376.2 761.2,376.3 761.8,379.4 762.7,371.2 763.1,379.8 763.8,373.4 764.4,384.9 765.1,388.9 765.7,389.4 766.4,381.3 767.0,396.1 767.7,374.4 768.3,383.7 769.0,391.1 769.6,407.7 770.3,389.3 770.9,400.2 771.6,408.6 772.2,408.3 772.9,407.9 773.5,386.7 774.2,396.4 774.8,398.3 775.5,399.6 776.1,398.4 776.8,394.5 777.4,396.7 778.1,387.1 778.7,403.6 779.4,401.6 780.0,396.0 780.7,412.7 781.3,402.1 782.0,398.4 782.6,408.0 783.3,407.1 783.9,407.8 784.6,401.8 785.2,407.2 785.9,401.8 786.5,408.9 787.2,401.7 787.8,392.4 788.5,390.1 789.1,401.2 789.8,403.2 790.4,384.2 791.1,401.1 791.7,395.2 792.4,398.5 793.0,387.7 793.7,384.1 794.3,389.4 795.0,386.5 795.6,391.0 796.3,397.6 796.9,397.2 797.6,413.1 798.2,386.9 798.9,393.0 799.5,399.2 800.2,405.0 800.8,388.2 801.5,384.7 802.1,402.2 802.8,403.3 803.4,404.7 804.1,404.6 804.7,386.0 805.4,406.7 806.0,397.1 806.7,409.0 807.3,394.9 808.0,386.7 808.6,396.1 809.3,397.5 809.9,398.2 810.6,397.0 811.2,389.4 811.9,378.0 812.5,391.5 813.2,389.2 813.8,384.6 814.5,393.0 815.1,388.2 815.8,374.6 816.4,381.2 817.1,380.8 817.7,387.1 818.4,405.3 819.0,388.7 819.7,394.5 820.3,372.8 821.0,400.9 821.6,384.9 822.3,395.3 822.9,383.6 823.6,392.6 824.2,398.8 824.9,394.7 825.5,396.9 826.2,393.2 826.8,392.1 827.5,394.9 828.1,391.8 828.8,391.9 829.4,387.2 830.1,387.2 830.7,391.1 831.4,393.0 832.0,383.4 832.7,380.7 833.3,383.4 834.0,387.3 834.6,382.1 835.3,387.0 835.9,377.5 836.6,371.0 837.2,365.7 837.9,389.2 838.5,383.8 839.2,374.0 839.8,386.3 840.5,367.4 841.1,397.0 841.8,397.4 842.4,398.8 843.1,379.1 843.7,400.9 844.4,394.0 845.0,400.2 845.7,372.6 846.3,394.5 847.0,397.1 847.6,385.9 848.3,394.0 848.9,389.4 849.6,396.2 850.2,386.8 850.9,388.0 851.5,380.5 852.2,397.0 852.8,381.5 853.5,379.6 854.1,380.0 854.8,386.0 855.4,385.8 856.1,388.2 856.7,395.7 857.4,391.9 858.0,375.1 858.7,386.2 859.3,383.6 860.0,390.2 860.6,385.7 861.3,394.4 861.9,385.6 862.6,396.3 863.2,377.0 863.9,392.7 864.5,390.6 865.2,377.8 865.8,372.9 866.5,377.8 867.1,385.5 867.8,394.5 868.4,370.4 869.1,379.3 869.7,371.2 870.4,387.1 871.0,381.7 871.7,380.4 872.3,385.7 873.0,381.8 873.6,390.9 874.3,376.3 874.9,373.4 875.6,378.0 876.2,377.3 876.9,388.2 877.5,373.6 878.2,372.0 878.8,370.3 879.5,369.0 880.1,361.6 880.8,376.6 881.4,379.8 882.1,376.2 882.7,366.9 883.4,385.2 884.0,383.7 884.7,378.6 885.3,384.0 885.9,360.4 886.6,382.0 887.3,384.2 887.9,364.8 888.6,374.2 889.2,373.5 889.9,384.7 890.5,369.6 891.2,383.9 891.8,380.9 892.5,379.0 893.1,383.0 893.8,367.3 894.4,380.4 895.1,371.9 895.7,372.4 896.4,388.2 897.0,373.5 897.7,385.3 898.3,377.0 899.0,375.6 899.6,375.8 900.3,368.0 900.9,377.7 901.6,382.4 902.2,393.2 902.9,388.8 903.5,390.1 904.2,376.6 904.8,377.7 905.5,386.9 906.1,388.2 906.8,373.3 907.4,393.2 908.1,376.5 908.7,385.5 909.4,377.5 910.0,390.5 910.7,392.1 911.3,393.9 912.0,372.8 912.6,384.5 913.3,398.3 913.9,383.3 914.6,388.3 915.2,384.9 915.9,378.9 916.5,399.0 917.2,399.4 917.8,378.0 918.5,390.5 919.1,400.5 919.8,390.8 920.4,387.2 921.1,396.9 921.7,395.7 922.4,374.4 923.0,378.4 923.7,400.5 924.3,380.6 925.0,385.3 925.6,379.6 926.3,398.3 926.9,374.4 927.6,386.0 928.2,381.2 928.9,381.8 929.5,373.6 930.2,376.9 930.8,382.4 931.5,387.0 932.1,368.5 932.8,385.6 933.4,374.0 934.1,384.0 934.7,379.8 935.4,384.5 936.0,384.0 936.7,392.0 937.3,388.1 938.0,375.1 938.6,376.5 939.3,379.2 939.9,392.7 940.6,379.7 941.2,384.5 941.9,402.1 942.5,389.3 943.2,390.6 943.8,393.9 944.5,395.7 945.1,389.6 945.8,393.2 946.4,382.6 947.1,395.3 947.7,397.7 948.4,381.3 949.0,401.8 949.7,408.0 950.3,380.2 951.0,392.8 951.6,410.5 952.3,403.1 952.9,386.3 953.6,386.3 954.2,388.1 954.9,399.0 955.5,380.8 956.2,373.6 956.8,389.9 957.5,380.3 958.1,403.7 958.8,379.5 959.4,392.2 960.1,388.3 960.7,378.9 961.4,387.2 962.0,380.2 962.7,394.2 963.3,386.7 964.0,386.2 964.6,385.3 965.3,401.2 965.9,397.2 966.6,387.9 967.2,393.8 967.9,400.3 968.5,400.7 969.2,396.5 969.8,383.0 970.5,411.7 971.1,396.4 971.8,411.1 972.4,386.3 973.1,406.0 973.7,411.2 974.4,409.8 975.0,388.6 975.7,397.7 976.3,413.2 977.0,391.8 977.6,404.8 978.3,396.5 978.9,384.1 979.6,405.7 980.2,406.5 980.9,401.9 981.5,397.8 982.2,404.3 982.8,380.7 983.5,393.5 984.1,408.0 984.8,398.9 985.4,404.4 986.1,392.9 986.7,398.4 987.4,385.6 988.0,400.4 988.7,398.6 989.3,393.4 990.0,396.6 990.6,397.8 991.3,398.9 991.9,403.2 992.6,404.8 993.2,387.0 993.9,399.8 994.5,404.9 995.2,392.5 995.8,398.0 996.5,406.7 997.1,396.1 997.8,403.5 998.4,399.7 999.1,390.7 999.7,396.6 1000.4,388.1 1001.0,395.4 1001.7,402.9 1002.3,401.2 1003.0,398.8 1003.6,392.9 1004.3,400.9 1004.9,405.4 1005.6,402.8 1006.2,404.7 1006.9,402.0 1007.5,402.6 1008.2,396.2 1008.8,409.1 1009.5,397.5 1010.1,398.9 1010.8,399.3 1011.4,398.8 1012.1,409.0 1012.7,400.7 1013.4,400.1 1014.0,399.7 1014.7,401.1" stroke="#0000FF" stroke-width="4.0"/>
<polyline points="67.0,522.8 67.7,533.0 68.3,513.3 69.0,532.0 69.6,519.3 70.3,519.1 70.9,538.0 71.6,524.0 72.2,521.4 72.9,532.1 73.5,538.3 74.2,522.0 74.8,531.3 75.5,509.5 76.1,518.6 76.8,518.0 77.4,506.6 78.1,507.1 78.7,507.6 79.4,522.5 80.0,522.9 80.7,519.7 81.3,524.2 82.0,503.1 82.6,519.9 83.3,523.8 83.9,531.2 84.6,503.9 85.2,510.1 85.9,494.4 86.5,505.8 87.2,491.6 87.8,491.3 88.5,533.6 89.1,492.5 89.8,528.3 90.4,520.3 91.1,509.7 91.7,522.8 92.4,524.1 93.0,532.2 93.7,512.2 94.3,507.6 95.0,508.0 95.6,504.6 96.3,514.4 96.9,508.4 97.6,521.6 98.2,505.6 98.9,509.8 99.5,512.1 100.2,509.4 100.8,534.8 101.5,512.6 102.1,524.9 102.8,521.6 103.4,536.7 104.1,508.9 104.7,527.0 105.4,510.7 106.0,512.4 106.7,508.2 107.3,518.6 108.0,504.3 108.6,513.9 109.3,518.8 109.9,530.6 110.6,500.6 111.2,531.8 111.9,525.5 112.5,508.0 113.2,515.3 113.8,506.0 114.5,523.2 115.1,510.1 115.8,505.4 116.4,505.7 117.1,506.5 117.7,507.3 118.4,497.7 119.0,531.0 119.7,491.2 120.3,492.0 121.0,507.4 121.6,506.2 122.3,509.3 122.9,503.8 123.6,503.7 124.2,506.6 124.9,510.2 125.5,505.5 126.2,506.8 126.8,515.2 127.5,512.2 128.1,507.5 128.8,521.1 129.4,518.8 130.1,508.8 130.7,502.4 131.4,519.8 132.0,505.1 132.7,500.9 133.3,497.0 134.0,509.9 134.6,542.1 135.3,510.9 135.9,496.6 136.6,527.9 137.2,517.1 137.9,526.6 138.5,529.0 139.2,511.4 139.8,510.9 140.5,511.0 141.1,501.7 141.8,515.5 142.4,520.3 143.1,510.6 143.7,507.0 144.4,506.4 145.0,502.3 145.7,501.7 146.3,504.1 147.0,500.9 147.6,504.2 148.3,495.4 148.9,513.5 149.6,511.5 150.2,497.0 150.9,494.8 151.5,514.0 152.2,533.6 152.8,503.1 153.5,507.8 154.1,506.4 154.8,525.3 155.4,501.8 156.1,527.1 156.7,510.2 157.4,523.3 158.0,513.2 158.7,510.4 159.3,501.0 160.0,506.8 160.6,510.1 161.3,517.9 161.9,514.7 162.6,506.5 163.2,516.7 163.9,522.6 164.5,511.7 165.2,508.9 165.8,510.3 166.5,525.2 167.1,525.1 167.8,514.5 168.4,528.9 169.1,524.6 169.7,525.5 170.4,542.7 171.0,539.5 171.7,528.1 172.3,533.8 173.0,536.7 173.6,528.2 174.3,531.9 174.9,537.5 175.6,521.0 176.2,534.7 176.9,537.9 177.5,536.6 178.2,523.1 178.8,536.1 179.5,527.4 180.1,538.9 180.8,539.6 181.4,537.0 182.1,529.5 182.7,531.3 183.4,543.7 184.0,529.3 184.7,542.0 185.3,542.8 186.0,536.0 186.6,552.9 187.3,536.5 187.9,545.6 188.6,513.6 189.2,511.6 189.9,536.4 190.5,534.9 191.2,529.4 191.8,533.5 192.5,526.7 193.1,534.9 193.8,535.4 194.4,537.1 195.1,544.2 195.7,536.2 196.4,538.6 197.0,523.4 197.7,524.8 198.3,532.0 199.0,522.3 199.6,545.6 200.3,505.6 200.9,539.3 201.6,497.5 202.2,530.1 202.9,492.5 203.5,521.6 204.2,496.4 204.8,495.0 205.5,495.1 206.2,457.6 206.8,463.8 207.4,468.7 208.1,524.7 208.7,495.4 209.4,505.6 210.0,518.4 210.7,543.1 211.3,498.7 212.0,525.9 212.6,516.2 213.3,531.3 213.9,506.5 214.6,519.1 215.2,534.5 215.9,539.5 216.5,538.7 217.2,515.3 217.8,524.2 218.5,522.7 219.1,511.2 219.8,508.8 220.4,525.6 221.1,519.6 221.7,514.5 222.4,524.9 223.0,504.0 223.7,518.7 224.3,513.4 225.0,512.6 225.6,519.3 226.3,515.5 226.9,516.8 227.6,516.9 228.2,532.2 228.9,508.4 229.5,527.7 230.2,521.6 230.8,508.2 231.5,523.7 232.1,501.8 232.8,527.7 233.4,503.0 234.1,507.1 234.7,516.7 235.4,522.4 236.0,524.7 236.7,526.0 237.3,513.1 238.0,503.7 238.6,525.4 239.3,523.0 239.9,504.8 240.6,532.1 241.2,521.2 241.9,505.8 242.5,524.0 243.2,502.0 243.8,507.8 244.5,522.9 245.1,503.1 245.8,518.6 246.4,504.2 247.1,526.2 247.7,510.9 248.4,521.3 249.0,503.9 249.7,515.8 250.3,532.2 251.0,526.6 251.6,503.9 252.3,531.1 252.9,528.4 253.6,510.6 254.2,529.1 254.9,498.9 255.5,508.2 256.2,521.4 256.8,523.5 257.5,523.1 258.1,498.4 258.8,495.8 259.4,514.1 260.1,496.7 260.7,509.3 261.4,498.9 262.0,521.1 262.7,519.7 263.3,518.2 264.0,513.5 264.6,514.5 265.3,511.4 265.9,519.7 266.6,519.0 267.2,522.2 267.9,512.2 268.5,534.7 269.2,521.4 269.8,531.9 270.5,529.1 271.1,502.6 271.8,496.0 272.4,520.4 273.1,503.4 273.7,507.9 274.4,505.0 275.0,508.8 275.7,496.9 276.3,507.0 277.0,504.0 277.6,508.3 278.3,495.5 278.9,516.4 279.6,511.9 280.2,496.3 280.9,502.9 281.5,509.4 282.2,514.1 282.8,509.2 283.5,519.4 284.1,509.5 284.8,502.6 285.4,504.8 286.1,514.7 286.7,504.4 287.4,516.0 288.0,517.8 288.7,514.3 289.3,518.6 290.0,507.0 290.6,508.5 291.3,502.1 291.9,501.5 292.6,493.1 293.2,503.6 293.9,498.4 294.5,496.4 295.2,516.1 295.8,520.5 296.5,510.8 297.1,531.7 297.8,527.2 298.4,528.6 299.1,509.2 299.7,501.1 300.4,523.4 301.0,520.9 301.7,525.8 302.3,522.6 302.9,532.0 303.6,515.4 304.2,524.7 304.9,507.3 305.5,501.5 306.2,510.4 306.8,528.2 307.5,499.2 308.1,522.5 308.8,504.8 309.4,506.7 310.1,511.5 310.7,514.2 311.4,502.4 312.0,515.3 312.7,520.0 313.3,525.8 314.0,506.2 314.6,529.2 315.3,527.2 315.9,525.3 316.6,496.8 317.2,509.9 317.9,494.0 318.5,509.9 319.2,511.4 319.8,489.6 320.5,485.3 321.1,505.0 321.8,511.4 322.4,486.4 323.1,494.4 323.8,478.3 324.4,485.9 325.0,503.0 325.7,504.0 326.3,522.1 327.0,487.5 327.6,487.8 328.3,511.5 328.9,500.8 329.6,511.1 330.2,514.3 330.9,510.9 331.5,516.8 332.2,514.4 332.8,482.7 333.5,494.5 334.1,508.5 335.0,477.3 335.4,500.6 336.1,487.0 336.7,481.4 337.4,501.7 338.0,497.1 338.7,480.2 339.3,493.2 340.0,464.9 340.6,471.0 341.3,489.8 341.9,478.1 342.6,463.4 343.2,478.6 343.9,474.9 344.5,481.5 345.2,475.6 345.8,463.2 346.5,459.9 347.1,460.3 347.8,458.3 348.4,467.7 349.1,467.3 349.7,464.5 350.4,456.5 351.0,450.7 351.7,458.3 352.3,449.0 353.0,453.2 353.6,439.6 354.3,447.8 354.9,462.5 355.6,442.0 356.2,436.7 356.9,447.2 357.5,462.2 358.2,461.9 358.8,441.9 359.5,439.3 360.1,442.8 360.8,431.0 361.4,443.5 362.1,438.2 362.7,423.1 363.4,432.6 364.0,437.0 364.7,426.5 365.3,421.2 366.0,455.3 366.6,460.8 367.3,433.8 367.9,431.8 368.6,443.0 369.2,433.9 369.9,429.1 370.5,443.8 371.2,429.4 371.8,431.1 372.5,430.3 373.1,428.3 373.8,430.5 374.4,434.3 375.1,439.4 375.7,434.4 376.4,429.5 377.0,419.3 377.7,428.1 378.3,421.2 379.0,427.2 379.6,434.9 380.3,428.9 380.9,425.6 381.6,421.4 382.2,426.2 382.9,425.1 383.5,415.8 384.2,416.7 384.8,423.7 385.5,405.7 386.1,411.0 386.8,404.5 387.4,422.2 388.1,414.5 388.7,412.8 389.4,410.7 390.0,408.6 390.7,407.5 391.3,388.0 392.0,404.9 392.6,407.9 393.3,384.4 393.9,408.3 394.6,405.4 395.2,383.7 395.9,392.4 396.5,393.3 397.2,390.9 397.8,397.0 398.5,380.2 399.1,387.0 399.8,388.8 400.4,391.5 401.1,382.5 401.7,377.1 402.4,385.0 403.0,359.6 403.6,361.3 404.3,370.2 405.0,362.0 405.6,370.5 406.3,363.2 406.9,365.0 407.6,373.4 408.2,372.4 408.9,377.7 409.5,370.7 410.2,367.3 410.8,367.1 411.5,379.8 412.1,369.9 412.8,364.5 413.4,360.3 413.8,359.3 414.7,367.6 415.4,372.4 416.0,377.2 416.7,377.6 417.3,374.5 418.0,372.3 418.6,373.3 419.3,371.9 419.9,374.4 420.6,383.0 421.2,380.0 421.9,387.0 422.5,373.3 423.2,396.9 423.8,392.7 424.5,391.5 425.1,397.1 425.8,380.3 426.4,390.9 427.1,389.8 427.7,412.8 428.4,400.2 429.0,399.6 429.7,411.6 430.3,400.0 431.0,422.2 431.6,408.1 432.3,416.6 432.9,411.6 433.6,431.5 434.2,412.0 434.9,437.3 435.5,421.6 436.2,433.5 436.8,417.2 437.5,439.1 438.1,439.9 438.8,449.0 439.4,445.6 440.1,453.8 440.7,460.3 441.4,431.6 442.0,416.9 442.7,416.4 443.3,447.1 444.0,430.0 444.6,448.7 445.3,434.2 445.9,423.0 446.6,445.3 447.2,450.5 447.9,435.9 448.5,430.6 449.2,433.0 449.8,446.6 450.5,437.8 451.1,440.2 451.8,448.5 452.4,446.8 453.1,450.2 453.7,445.3 454.4,445.4 455.0,458.9 455.7,460.6 456.3,467.4 457.0,451.0 457.6,463.5 458.3,465.2 458.9,460.0 459.6,466.1 460.2,471.0 460.9,461.6 461.5,460.4 462.2,450.4 462.8,462.9 463.5,459.3 464.1,457.9 464.8,454.0 465.4,466.0 466.1,473.9 466.7,465.6 467.4,463.0 468.0,466.4 468.7,458.0 469.3,464.3 470.0,458.0 470.6,458.2 471.3,466.3 471.9,466.5 472.6,463.5 473.2,457.0 473.9,467.6 474.5,454.1 475.2,473.4 475.8,461.9 476.5,465.8 477.1,474.6 477.8,472.4 478.4,451.7 479.1,463.9 479.7,472.1 480.4,454.1 481.0,451.3 481.7,468.7 482.3,469.7 483.0,477.8 483.6,473.2 484.3,474.8 484.9,477.5 485.6,496.2 486.2,483.3 486.9,483.8 487.5,466.4 488.2,493.1 488.8,469.3 489.5,485.1 490.1,450.4 490.8,475.5 491.4,469.4 492.1,463.5 492.7,493.4 493.4,479.4 494.0,470.0 494.7,463.3 495.3,495.8 496.0,487.7 496.6,486.4 497.3,459.2 497.9,495.1 498.6,482.2 499.2,466.9 499.9,469.3 500.5,449.6 501.2,480.7 501.8,451.6 502.5,482.2 503.1,461.3 503.8,458.4 504.4,474.9 505.1,473.8 505.7,454.6 506.4,472.1 507.0,483.9 507.7,472.1 508.3,457.8 509.0,474.9 509.6,465.1 510.3,472.3 510.9,483.2 511.6,481.3 512.2,478.8 512.9,464.6 513.5,484.8 514.2,478.2 514.8,476.0 515.5,480.8 516.1,490.8 516.8,469.9 517.4,467.3 518.1,483.8 518.7,471.2 519.4,489.0 520.0,467.7 520.7,471.8 521.3,485.6 522.0,486.7 522.6,481.6 523.1,464.2 523.9,476.1 524.6,473.0 525.2,476.6 525.9,496.0 526.5,489.7 527.2,481.2 527.8,485.3 528.5,492.7 529.1,498.3 529.8,478.7 530.4,479.4 531.1,486.1 531.7,463.4 532.4,485.0 533.0,502.3 533.7,464.3 534.3,496.6 535.0,468.9 535.6,474.2 536.3,481.5 536.9,488.3 537.6,492.6 538.2,495.0 538.9,494.6 539.5,491.0 540.2,504.3 540.8,497.5 541.5,499.7 542.1,506.9 542.8,503.3 543.4,500.3 544.1,498.0 544.7,509.8 545.4,481.8 546.0,482.9 546.7,497.0 547.3,478.9 548.0,486.1 548.6,511.0 549.3,490.8 549.9,499.5 550.6,507.0 551.2,482.4 551.9,501.9 552.5,491.1 553.2,486.5 553.8,496.4 554.5,499.2 555.1,496.2 555.8,494.5 556.4,508.7 557.1,509.9 557.7,505.5 558.4,501.1 559.0,494.6 559.7,496.7 560.3,495.1 561.0,505.1 561.6,510.7 562.3,511.1 562.9,505.1 563.6,503.6 564.2,507.8 564.9,508.1 565.5,511.0 566.2,514.9 566.8,507.4 567.5,515.7 568.1,503.6 568.8,503.3 569.4,503.4 570.1,505.2 570.7,508.7 571.4,517.8 572.0,506.1 572.7,516.9 573.3,507.6 574.0,511.3 574.6,501.7 575.3,523.6 575.9,510.0 576.6,504.0 577.2,526.0 577.9,512.8 578.5,515.9 579.2,509.2 579.8,500.8 580.5,494.6 581.1,509.2 581.8,528.7 582.4,517.3 583.1,509.7 583.7,526.4 584.4,499.3 585.0,527.0 585.7,509.1 586.3,498.7 587.0,514.3 587.6,511.2 588.3,501.5 588.9,506.1 589.6,513.0 590.2,516.5 590.9,498.9 591.5,494.5 592.2,517.3 592.8,505.1 593.5,504.7 594.1,510.1 594.8,506.0 595.4,513.3 596.1,500.5 596.7,505.6 597.4,498.5 598.0,515.6 598.7,503.5 599.3,512.5 600.0,515.0 600.6,495.0 601.3,503.1 601.9,512.0 602.6,506.1 603.2,504.5 603.9,515.5 604.5,516.8 605.2,499.9 605.8,504.9 606.5,512.8 607.1,508.3 607.8,507.6 608.4,496.7 609.1,518.4 609.7,504.6 610.4,508.2 611.0,506.4 611.7,507.6 612.3,508.6 613.0,502.6 613.6,511.1 614.3,516.8 614.9,512.1 615.6,514.6 616.2,513.5 616.9,511.3 617.5,521.0 618.2,508.1 618.8,514.2 619.5,517.0 620.1,513.2 620.8,508.0 621.4,508.4 622.1,515.8 622.7,509.7 623.4,511.6 624.0,512.0 624.7,511.4 625.3,509.7 626.0,508.6 626.6,511.4 627.3,509.2 627.9,510.9 628.6,512.5 629.2,513.1 629.9,503.8 630.5,501.2 631.2,516.0 631.8,505.5 632.5,501.2 633.1,497.4 633.8,510.9 634.4,497.9 635.1,498.5 635.7,509.6 636.4,506.6 637.0,508.0 637.7,490.4 638.3,486.8 639.0,488.9 639.6,495.4 640.3,484.5 640.9,509.8 641.6,503.4 642.2,488.9 642.9,505.7 643.5,499.7 644.2,498.0 644.8,509.0 645.5,494.2 646.1,507.4 646.8,507.4 647.4,496.3 648.1,501.8 648.7,501.4 649.4,495.1 650.0,497.8 650.7,495.3 651.3,501.3 652.0,496.9 652.6,490.2 653.3,508.8 653.9,506.6 654.6,496.6 655.2,505.9 655.9,509.2 656.5,494.7 657.2,500.0 657.8,499.4 658.5,503.7 659.1,499.3 659.8,492.8 660.4,507.7 661.1,497.8 661.7,504.5 662.4,510.5 663.0,493.0 663.7,495.1 664.3,506.2 665.0,498.3 665.6,506.2 666.3,502.4 666.9,519.8 667.6,513.5 668.2,511.7 668.9,508.8 669.5,511.7 670.2,490.8 670.8,503.2 671.5,513.8 672.1,493.8 672.8,505.7 673.4,504.2 674.1,500.6 674.7,515.7 675.4,509.3 676.0,506.5 676.7,499.6 677.3,504.8 678.0,502.8 678.6,503.9 679.3,505.3 679.9,513.2 680.6,513.9 681.2,517.5 681.9,518.5 682.5,521.0 683.2,501.0 683.8,493.5 684.5,512.0 685.1,513.6 685.8,510.5 686.4,501.3 687.1,518.5 687.7,525.8 688.4,511.6 689.0,506.0 689.7,521.8 690.3,504.9 691.0,504.2 691.6,510.7 692.3,494.1 692.9,519.7 693.6,505.9 694.2,510.5 694.9,508.6 695.5,509.3 696.2,495.7 696.8,518.2 697.5,510.9 698.1,508.6 698.8,518.8 699.4,494.5 700.1,512.8 700.7,504.9 701.4,492.0 702.0,519.7 702.7,491.5 703.3,507.2 704.0,504.7 704.6,507.6 705.3,495.1 705.9,520.9 706.6,508.9 707.2,492.1 707.9,493.1 708.5,510.3 709.2,494.6 709.8,512.9 710.5,512.1 711.1,502.2 711.8,493.9 712.4,494.9 713.1,514.0 713.7,504.3 714.4,525.7 715.0,504.8 715.7,514.7 716.3,518.4 717.0,511.1 717.6,513.9 718.3,523.3 718.9,507.8 719.6,514.4 720.2,504.6 720.9,527.9 721.5,512.1 722.2,522.0 722.8,490.2 723.5,502.7 724.1,494.8 724.8,510.7 725.4,505.3 726.1,499.5 726.7,508.3 727.4,518.5 728.0,520.0 728.7,508.0 729.3,518.5 730.0,509.0 730.6,515.2 731.3,508.3 731.9,516.4 732.6,518.6 733.2,509.2 733.9,516.3 734.5,502.0 735.2,505.7 735.8,517.5 736.5,507.7 737.1,511.1 737.8,499.1 738.4,509.5 739.1,505.2 739.7,519.0 740.4,508.0 741.0,523.4 741.7,505.2 742.3,516.3 743.0,502.9 743.6,512.1 744.3,525.8 744.9,515.5 745.6,505.3 746.2,519.6 746.9,522.9 747.5,518.4 748.2,522.5 748.8,502.4 749.5,525.8 750.1,519.0 750.8,500.7 751.4,524.6 752.1,508.3 752.7,516.0 753.4,499.2 754.0,506.1 754.7,498.6 755.3,519.0 756.0,509.1 756.6,502.3 757.3,507.4 757.9,522.2 758.6,502.9 759.2,516.7 759.9,498.0 760.5,495.7 761.2,505.5 761.8,507.9 762.5,513.1 763.1,521.6 763.8,507.0 764.4,507.8 765.1,520.2 765.7,516.8 766.4,511.7 767.0,514.7 767.7,498.7 768.3,507.4 769.0,499.7 769.6,509.7 770.3,520.2 770.9,501.2 771.6,519.9 772.2,509.3 772.9,511.9 773.5,510.3 774.2,518.0 774.8,509.2 775.5,503.3 776.1,515.6 776.8,512.7 777.4,517.6 778.1,517.5 778.7,506.4 779.4,515.1 780.0,514.6 780.7,513.5 781.3,514.6 782.0,515.9 782.6,511.2 783.3,514.3 783.9,522.7 784.6,509.2 785.2,516.9 785.9,510.2 786.5,510.2 787.2,516.2 787.8,521.8 788.5,532.7 789.1,518.0 789.8,527.3 790.4,523.6 791.1,519.4 791.7,506.5 792.4,519.2 793.0,518.4 793.7,509.7 794.3,518.4 795.0,528.3 795.6,508.9 796.3,513.9 796.9,525.0 797.6,506.5 798.2,510.4 798.9,521.1 799.5,526.6 800.2,529.0 800.8,525.6 801.5,531.1 802.1,521.0 802.8,504.2 803.4,513.3 804.1,520.4 804.7,516.8 805.4,496.6 806.0,515.0 806.7,499.9 807.3,505.7 808.0,523.9 808.6,505.3 809.3,499.2 809.9,506.6 810.6,500.0 811.2,526.1 811.9,520.2 812.5,521.8 813.2,500.8 813.8,501.6 814.5,514.2 815.1,493.2 815.8,525.9 816.4,492.6 817.1,513.3 817.7,517.4 818.4,499.1 819.0,518.5 819.7,525.1 820.3,535.2 821.0,520.6 821.6,535.9 822.3,521.4 822.9,509.6 823.6,526.7 824.2,504.5 824.9,514.6 825.5,520.9 826.2,526.9 826.8,515.3 827.5,496.3 828.1,526.8 828.8,513.5 829.4,507.3 830.1,500.1 830.7,518.9 831.4,515.5 832.0,520.8 832.7,508.2 833.3,530.0 834.0,507.4 834.6,517.4 835.3,515.1 835.9,525.7 836.6,506.5 837.2,511.7 837.9,512.7 838.5,508.1 839.2,507.8 839.8,502.8 840.5,518.0 841.1,522.7 841.8,503.6 842.4,515.5 843.1,501.9 843.7,503.7 844.4,506.3 845.0,508.2 845.7,509.5 846.3,494.4 847.0,493.8 847.6,504.5 848.3,500.2 848.9,517.0 849.6,498.3 850.2,494.1 850.9,513.2 851.5,486.4 852.2,486.4 852.8,513.1 853.5,493.8 854.1,499.7 854.8,497.2 855.4,491.3 856.1,497.0 856.7,488.0 857.4,505.1 858.0,503.7 858.7,503.0 859.3,491.0 860.0,486.4 860.6,494.2 861.3,489.6 861.9,500.8 862.6,486.4 863.2,491.0 863.9,498.9 864.5,501.0 865.2,498.3 865.8,488.0 866.5,492.1 867.1,508.6 867.8,504.0 868.4,490.6 869.1,508.2 869.7,495.5 870.4,496.2 871.0,489.9 871.7,507.3 872.3,496.6 873.0,495.0 873.6,488.0 874.3,484.7 874.9,496.5 875.6,494.9 876.2,507.5 876.9,486.4 877.5,490.9 878.2,503.3 878.8,501.7 879.5,487.3 880.2,483.8 880.8,499.4 881.4,504.8 882.1,500.4 882.7,508.2 883.4,494.5 884.0,497.7 884.7,513.3 885.3,505.7 886.0,504.5 886.6,511.9 887.3,501.7 887.9,502.6 888.6,484.6 889.2,492.6 889.9,503.9 890.5,488.6 891.2,493.0 891.8,496.5 892.5,493.0 893.1,500.1 893.8,497.1 894.4,492.6 895.1,500.3 895.7,491.4 896.4,489.5 897.0,495.0 897.7,496.3 898.3,492.7 899.0,488.6 899.6,492.4 900.3,498.1 900.9,502.7 901.6,510.9 902.2,498.5 902.9,498.9 903.5,488.1 904.2,516.6 904.8,514.3 905.5,506.3 906.1,499.9 906.8,494.1 907.4,518.7 908.1,502.5 908.7,524.7 909.4,517.3 910.0,520.9 910.7,508.5 911.3,517.7 912.0,500.2 912.6,516.7 913.3,508.2 913.9,502.1 914.6,506.5 915.2,502.0 915.9,512.5 916.5,503.3 917.2,496.8 917.8,506.6 918.5,507.6 919.1,511.5 919.8,515.7 920.4,520.2 921.1,511.5 921.7,519.9 922.4,494.4 923.0,505.5 923.7,512.6 924.3,496.3 925.0,504.8 925.6,508.1 926.3,497.2 926.9,504.0 927.6,511.4 928.2,506.6 928.9,516.9 929.5,517.2 930.2,509.3 930.8,505.0 931.5,510.3 932.1,508.7 932.8,504.3 933.4,509.2 934.1,508.5 934.7,509.3 935.4,522.7 936.0,526.1 936.7,519.3 937.3,509.1 938.0,520.3 938.6,515.0 939.3,518.1 939.9,501.8 940.6,497.7 941.2,528.0 941.9,507.9 942.5,509.5 943.2,516.5 943.8,516.2 944.5,513.1 945.1,534.2 945.8,517.7 946.4,518.3 947.1,503.2 947.7,512.6 948.4,518.9 949.0,511.5 949.7,516.2 950.3,502.2 951.0,517.5 951.6,503.5 952.3,510.3 952.9,508.0 953.6,517.2 954.2,525.0 954.9,518.9 955.5,510.0 956.2,517.9 956.8,525.9 957.5,523.5 958.1,521.7 958.8,505.2 959.4,510.9 960.1,509.2 960.7,511.3 961.4,519.7 962.0,517.3 962.7,512.4 963.3,524.5 964.0,509.6 964.6,514.9 965.3,520.3 965.9,505.9 966.6,512.1 967.2,508.2 967.9,512.5 968.5,520.9 969.2,521.6 969.8,525.5 970.5,525.4 971.1,515.1 971.8,533.5 972.4,531.7 973.1,512.4 973.7,515.8 974.4,516.9 975.0,521.8 975.7,524.9 976.3,519.7 977.0,507.6 977.6,531.7 978.3,526.3 978.9,525.9 979.6,514.1 980.2,520.4 980.9,526.3 981.5,516.4 982.2,527.4 982.8,520.2 983.5,529.9 984.1,520.1 984.8,529.6 985.4,509.7 986.1,529.5 986.7,523.2 987.4,518.0 988.0,527.5 988.7,519.0 989.3,526.1 990.0,527.1 990.6,527.9 991.3,531.7 991.9,530.3 992.6,531.9 993.2,526.2 993.9,522.8 994.5,524.5 995.2,521.8 995.8,514.2 996.5,523.4 997.1,514.9 997.8,520.9 998.4,520.9 999.1,519.5 999.7,516.3 1000.4,524.1 1001.0,523.2 1001.7,532.5 1002.3,527.4 1003.0,529.6 1003.6,519.6 1004.3,520.6 1004.9,513.6 1005.6,516.2 1006.2,527.8 1006.9,521.4 1007.5,522.0 1008.2,519.5 1008.8,533.5 1009.5,523.4 1010.1,530.8 1010.8,524.0 1011.4,529.7 1012.1,519.6 1012.7,518.2 1013.4,530.5" stroke="#FF0000" stroke-width="4.0"/>
<polyline points="68.0,655.1 68.6,657.9 69.2,651.7 69.8,657.2 70.4,661.0 71.0,657.3 71.6,664.0 72.2,646.6 72.8,653.7 73.4,646.7 74.0,645.4 74.6,650.3 75.2,653.7 75.8,655.5 76.4,656.7 77.0,664.0 77.6,660.3 78.2,641.6 78.8,655.9 79.4,650.9 80.0,651.1 80.6,663.8 81.2,651.2 81.8,638.3 82.4,654.5 83.0,647.7 83.6,636.8 84.2,638.2 84.8,641.6 85.4,648.8 86.0,644.0 86.6,650.0 87.2,664.0 87.8,639.8 88.4,639.7 89.0,646.3 89.6,662.1 90.2,641.1 90.8,664.0 91.4,635.3 92.0,639.1 92.6,650.1 93.2,642.4 93.8,645.5 94.4,656.1 95.0,658.8 95.6,653.4 96.2,649.6 96.8,664.0 97.4,655.5 98.0,649.2 98.6,663.3 99.2,641.8 99.8,652.5 100.4,657.5 101.0,650.2 101.6,644.0 102.2,654.4 102.8,646.1 103.4,646.5 104.0,643.7 104.6,663.9 105.2,649.6 105.8,662.6 106.4,657.4 107.0,653.4 107.6,659.5 108.2,657.1 108.8,656.5 109.4,647.9 110.0,656.5 110.6,661.1 111.2,658.7 111.8,661.5 112.4,664.0 113.0,656.4 113.6,664.0 114.2,636.2 114.8,648.7 115.4,635.6 116.0,659.3 116.6,651.6 117.2,664.0 117.8,646.4 118.4,634.1 119.0,664.0 119.6,636.3 120.2,637.6 120.8,649.3 121.4,657.5 122.0,646.6 122.6,653.6 123.2,637.8 123.8,664.0 124.4,652.0 125.0,653.9 125.6,657.7 126.2,653.8 126.8,653.8 127.4,642.8 128.0,650.2 128.6,655.5 129.2,661.6 129.8,649.2 130.4,651.1 131.0,653.6 131.6,656.1 132.2,651.9 132.8,647.4 133.4,645.5 134.0,662.4 134.6,654.7 135.2,652.8 135.8,664.0 136.4,660.6 137.0,660.5 137.6,655.7 138.2,646.9 138.8,662.5 139.4,652.8 140.0,653.5 140.6,661.6 141.2,661.5 141.8,654.1 142.4,651.1 143.0,664.0 143.6,655.3 144.2,631.4 144.8,656.6 145.2,624.7 146.0,645.5 146.6,656.1 147.2,650.6 147.8,664.0 148.4,652.2 149.0,653.7 149.6,662.7 150.2,648.4 150.8,661.4 151.4,651.5 152.0,663.0 152.6,642.4 153.2,655.0 153.8,633.8 154.4,644.4 155.0,649.3 155.6,654.7 156.2,664.0 156.8,664.0 157.4,629.4 158.0,636.5 158.6,664.0 159.2,653.4 159.8,631.2 160.4,654.9 161.0,637.5 161.6,641.9 162.2,639.4 162.8,650.1 163.4,664.0 164.0,656.8 164.6,652.6 165.2,664.0 165.8,648.4 166.4,650.5 167.0,648.9 167.6,654.8 168.2,646.8 168.8,664.0 169.4,644.0 170.0,653.3 170.6,647.9 171.2,631.3 171.8,625.5 172.4,641.6 173.0,621.3 173.6,642.5 174.2,643.4 174.8,644.4 175.4,641.0 176.0,647.6 176.6,636.6 177.3,624.7 177.8,622.0 178.4,656.7 179.0,632.2 179.6,651.7 180.2,640.2 180.8,642.1 181.4,639.6 182.0,663.0 182.6,640.6 183.2,641.7 183.8,654.4 184.4,655.7 185.0,655.3 185.6,647.4 186.2,647.4 186.8,658.7 187.4,639.6 188.0,654.7 188.6,655.3 189.2,647.1 189.8,627.2 190.4,663.4 191.0,646.1 191.6,647.2 192.2,639.7 192.8,632.3 193.4,641.6 194.0,648.0 194.6,634.6 195.2,647.3 195.8,660.8 196.4,651.9 197.0,646.1 197.6,659.6 198.2,658.3 198.8,658.2 199.4,642.7 200.0,637.1 200.6,657.3 201.2,649.7 201.8,644.5 202.4,652.9 203.0,641.6 203.6,638.5 204.2,663.4 204.8,626.6 205.4,655.8 206.0,657.8 206.6,662.8 207.2,650.0 207.8,652.9 208.4,641.0 209.0,649.0 209.6,634.6 210.2,643.1 210.8,647.7 211.4,646.8 212.0,642.9 212.6,658.7 213.2,630.5 213.8,646.6 214.4,639.7 215.0,643.7 215.6,643.0 216.2,659.5 216.8,626.4 217.4,657.7 217.9,623.1 218.6,638.2 219.2,633.8 219.8,629.1 220.4,628.5 221.0,651.2 221.6,605.3 222.2,628.9 222.8,604.1 223.2,595.7 224.0,627.0 224.6,596.4 225.2,615.3 225.8,630.6 226.4,631.5 227.0,617.7 227.6,630.2 228.2,629.1 228.8,639.9 229.4,637.1 230.0,636.2 230.6,630.4 231.2,638.3 231.8,631.8 232.4,630.9 233.0,632.6 233.6,633.1 234.2,633.2 234.8,628.8 235.4,638.2 236.0,636.1 236.6,637.7 237.2,633.6 237.8,639.9 238.4,640.5 239.0,642.0 239.6,658.3 240.2,640.2 240.8,652.9 241.4,633.5 242.0,651.6 242.6,646.5 243.2,642.6 243.8,645.6 244.4,643.5 245.0,646.8 245.6,647.8 246.2,643.7 246.8,648.6 247.4,648.0 248.0,643.1 248.6,640.7 249.2,640.6 249.8,640.5 250.4,641.3 251.0,646.6 251.6,639.7 252.2,643.2 252.8,643.6 253.4,636.3 254.0,636.1 254.6,638.7 255.2,629.3 255.8,640.5 256.4,643.0 257.0,629.8 257.6,622.6 258.2,632.9 258.8,632.8 259.4,626.2 260.0,633.9 260.6,638.4 261.2,644.7 261.8,646.8 262.4,630.7 263.0,624.0 263.6,621.4 264.2,625.9 264.8,615.4 265.4,611.4 266.1,599.8 266.6,622.9 267.2,628.7 267.8,619.5 268.4,621.2 269.0,626.1 269.6,631.6 270.2,633.5 270.8,635.8 271.4,643.7 272.0,644.9 272.6,635.6 273.2,645.7 273.8,649.1 274.4,639.1 275.0,651.0 275.6,643.1 276.2,643.2 276.8,630.0 277.4,624.3 278.0,635.6 278.6,627.0 279.2,621.6 279.8,625.6 280.4,628.5 280.9,607.7 281.6,621.3 282.2,627.6 282.8,634.2 283.4,626.9 284.0,619.8 284.6,623.3 285.2,616.8 285.8,612.6 286.4,611.3 287.0,608.4 287.6,616.1 288.2,607.7 288.8,606.2 289.4,610.3 290.0,612.7 290.6,606.3 291.2,611.1 291.8,616.1 292.4,622.7 292.7,607.0 293.6,623.6 294.2,621.9 294.8,625.0 295.4,618.4 296.0,616.0 296.6,629.5 297.2,628.1 297.8,624.7 298.4,626.9 299.0,640.3 299.6,651.7 300.2,645.6 300.8,658.1 301.4,646.3 302.0,646.2 302.6,647.1 303.2,652.2 303.8,627.7 304.4,642.6 305.0,652.6 305.6,626.7 306.2,643.1 306.8,647.5 307.4,654.5 308.0,653.8 308.6,641.7 309.2,654.0 309.8,634.9 310.4,633.6 311.0,652.0 311.6,649.3 312.2,638.6 312.8,655.2 313.4,655.3 314.0,655.8 314.6,648.6 315.2,643.6 315.8,640.1 316.4,650.0 317.0,649.4 317.6,645.4 318.2,643.9 318.8,655.8 319.4,636.6 320.0,639.0 320.6,659.3 321.2,636.3 321.8,634.5 322.4,653.3 323.0,620.9 323.6,656.9 324.2,620.2 324.8,627.2 325.4,624.1 326.0,628.6 326.6,631.3 327.2,638.8 327.8,634.7 328.4,638.3 329.0,635.6 329.6,620.2 330.2,627.8 330.8,619.1 331.4,618.5 332.0,624.0 332.6,626.2 333.2,624.5 333.8,595.0 334.4,610.6 335.0,604.1 335.6,626.5 336.4,591.0 336.8,603.3 337.4,602.6 338.0,612.5 338.6,582.4 339.2,596.5 339.8,595.2 340.4,595.6 341.0,590.0 341.6,579.6 342.2,585.6 342.8,553.8 343.4,597.6 344.0,566.9 344.6,537.0 345.2,551.2 345.8,567.5 346.4,542.8 347.0,523.8 347.6,524.1 348.2,569.7 348.8,553.8 349.4,537.1 350.0,554.5 350.6,584.4 351.2,574.2 351.8,553.5 352.4,566.0 353.0,577.0 353.6,591.6 354.2,578.7 354.8,584.5 355.4,575.4 356.0,579.7 356.6,572.6 357.2,571.1 357.8,571.5 358.4,578.1 359.0,593.0 359.6,583.8 360.2,594.0 360.8,591.5 361.4,587.4 362.0,583.1 362.6,600.3 363.2,596.6 363.8,596.3 364.4,598.1 365.0,596.4 365.6,583.9 366.2,583.9 366.8,584.2 367.4,592.2 368.0,565.9 368.6,560.2 369.2,569.6 369.8,573.6 370.4,567.5 371.0,580.4 371.6,576.6 372.2,570.4 372.8,570.5 373.4,582.1 374.0,581.1 374.6,580.0 375.2,562.0 375.8,574.1 376.4,548.8 377.0,542.1 377.6,572.1 378.2,563.8 378.8,560.4 379.4,569.2 380.0,568.6 380.6,552.2 381.2,551.1 381.8,555.1 382.4,558.2 383.0,546.4 383.6,519.1 384.2,560.0 384.8,523.8 385.4,523.5 386.0,537.6 386.6,525.4 387.2,529.8 387.8,537.1 388.4,533.1 389.0,508.6 389.6,513.9 390.2,508.0 390.8,522.5 391.4,493.9 392.0,490.5 392.6,481.3 393.2,510.5 393.8,506.2 394.4,507.0 395.0,504.0 395.6,468.4 396.2,476.8 396.8,463.6 397.4,488.0 398.0,478.4 398.6,449.9 399.2,468.3 399.8,462.8 400.4,461.7 401.0,466.9 401.6,451.2 402.2,453.3 402.8,447.8 403.4,446.5 404.0,439.7 404.6,461.4 405.2,450.3 405.8,437.1 406.4,420.2 407.0,445.3 407.6,427.2 408.2,425.5 408.8,427.7 409.4,435.2 410.0,408.1 410.6,387.0 411.2,402.7 411.8,405.9 412.5,384.1 413.0,427.4 413.6,400.0 414.2,412.9 414.8,399.7 415.4,420.9 416.0,400.9 416.6,425.4 417.2,414.6 417.6,390.7 418.4,422.7 419.0,394.4 419.6,414.4 420.2,439.2 420.8,444.8 421.4,470.0 422.0,473.7 422.6,465.4 423.2,484.8 423.8,474.3 424.4,486.3 425.0,499.1 425.6,470.0 426.2,479.4 426.8,493.0 427.4,495.3 428.0,488.3 428.6,510.1 429.2,510.4 429.8,514.5 430.4,518.9 431.0,525.3 431.6,519.9 432.2,530.7 432.8,529.7 433.4,532.2 434.0,531.8 434.6,549.5 435.2,530.2 435.8,539.7 436.4,553.9 437.0,547.8 437.6,546.4 438.2,563.7 438.8,544.8 439.4,552.5 440.0,561.3 440.6,551.4 441.2,552.2 441.8,560.5 442.4,571.0 443.0,552.6 443.6,566.7 444.2,562.7 444.8,561.9 445.4,558.8 446.0,582.8 446.6,579.7 447.2,580.7 447.8,577.1 448.4,596.0 449.0,576.6 449.6,574.0 450.2,577.6 450.8,586.8 451.4,591.5 452.0,572.8 452.6,592.3 453.2,592.7 453.8,601.0 454.4,587.2 455.0,601.0 455.6,599.3 456.2,581.5 456.8,582.8 457.4,591.2 458.0,592.8 458.6,587.2 459.2,593.2 459.8,583.0 460.4,594.1 461.0,593.6 461.6,596.5 462.2,596.4 462.8,598.4 463.4,596.6 464.0,605.0 464.6,594.4 465.2,604.5 465.8,599.9 466.4,609.8 467.0,595.2 467.6,600.1 468.2,599.0 468.8,604.8 469.4,598.9 470.0,588.3 470.6,597.1 471.2,609.2 471.8,603.9 472.4,591.2 473.0,587.6 473.6,588.0 474.2,594.3 474.8,594.4 475.4,594.5 476.0,594.6 476.6,600.5 477.2,610.6 477.8,610.2 478.4,598.1 479.0,608.2 479.6,598.2 480.2,612.0 480.8,609.2 481.4,607.3 482.0,611.2 482.6,605.3 483.2,602.8 483.8,607.4 484.4,586.6 485.0,593.6 485.6,590.1 486.2,595.8 486.8,585.1 487.4,569.9 487.8,568.7 488.6,579.0 489.2,578.4 489.8,579.9 490.4,574.8 491.0,586.3 491.6,578.5 492.2,584.2 492.8,582.9 493.4,585.8 494.0,601.6 494.6,590.6 495.2,593.5 495.8,586.4 496.4,594.1 497.0,599.8 497.6,591.5 498.2,597.1 498.8,584.4 499.4,593.9 500.0,590.5 500.6,598.4 501.2,588.2 501.8,599.1 502.4,588.8 503.0,587.4 503.6,603.9 504.2,583.2 504.8,586.7 505.4,605.6 506.0,594.4 506.6,595.5 507.2,594.1 507.8,592.0 508.4,602.7 509.0,592.9 509.6,600.1 510.2,593.2 510.8,590.6 511.4,592.8 512.0,594.2 512.6,599.2 513.2,591.7 513.8,594.8 514.4,582.8 515.0,594.7 515.6,588.7 516.2,592.5 516.8,589.7 517.4,585.4 518.0,589.2 518.6,588.7 519.2,594.3 519.8,588.1 520.4,587.7 521.0,583.1 521.6,595.5 522.2,590.9 522.8,586.7 523.4,604.7 524.0,604.7 524.6,597.4 525.2,599.6 525.8,584.7 526.4,582.7 527.0,598.7 527.6,583.4 528.2,601.8 528.8,592.9 529.4,596.9 530.0,590.8 530.6,599.4 531.2,604.4 531.8,600.7 532.4,608.5 533.0,610.8 533.6,603.2 534.2,589.7 534.8,615.4 535.4,602.9 536.0,600.6 536.6,598.1 537.2,600.5 537.8,622.3 538.4,624.2 539.0,621.8 539.6,623.9 540.2,613.0 540.8,624.9 541.4,617.7 542.0,618.9 542.6,631.1 543.2,635.0 543.8,620.8 544.4,609.2 545.0,603.2 545.6,615.7 546.2,632.1 546.9,588.3 547.4,623.8 548.0,600.9 548.6,605.9 549.2,625.1 549.8,633.5 550.4,618.8 551.0,631.8 551.6,626.5 552.2,633.8 552.8,622.8 553.4,632.8 554.0,637.3 554.6,640.2 555.2,643.7 555.8,641.1 556.4,643.8 557.0,639.9 557.6,644.8 558.2,642.1 558.8,648.3 559.4,649.2 560.0,646.0 560.6,653.5 561.2,641.9 561.8,643.8 562.4,658.3 563.0,643.7 563.6,652.4 564.2,627.9 564.8,663.1 565.4,634.3 566.0,636.0 566.6,657.7 567.2,647.3 567.8,631.6 568.4,660.9 569.0,640.3 569.6,646.6 570.2,644.9 570.8,646.5 571.4,646.7 572.0,647.3 572.6,646.6 573.2,660.9 573.8,651.5 574.4,653.0 575.0,645.5 575.6,659.2 576.2,651.5 576.8,648.7 577.4,644.9 578.0,651.8 578.6,638.5 579.2,643.6 579.8,645.1 580.4,648.3 581.0,647.2 581.6,638.3 582.2,649.6 582.8,643.4 583.4,642.7 584.0,646.6 584.6,643.5 585.2,642.3 585.8,642.3 586.4,650.0 587.0,644.9 587.6,646.1 588.2,638.5 588.8,653.8 589.4,644.5 590.0,636.9 590.6,653.5 591.2,631.6 591.8,637.7 592.4,651.5 593.0,640.5 593.6,641.8 594.2,641.6 594.8,645.1 595.4,648.7 596.0,649.7 596.6,635.0 597.2,636.0 597.8,623.2 598.4,633.6 599.0,645.9 599.6,639.5 600.2,656.1 600.8,640.1 601.4,647.7 602.0,654.0 602.6,642.2 603.2,657.7 603.8,645.5 604.4,649.3 605.0,640.6 605.6,647.2 606.2,642.0 606.8,653.1 607.4,634.7 608.0,648.5 608.6,647.1 609.2,647.8 609.8,650.8 610.4,648.9 611.0,632.7 611.6,645.7 612.2,632.1 612.8,631.6 613.4,634.6 614.0,631.5 614.6,631.0 615.2,647.3 615.8,638.4 616.4,624.7 617.0,632.1 617.6,635.0 618.2,652.0 618.8,641.7 619.4,636.2 620.0,644.3 620.6,628.5 621.2,654.1 621.8,639.5 622.4,635.2 623.0,650.8 623.6,639.3 624.2,638.2 624.8,653.9 625.4,661.4 626.0,647.7 626.6,650.9 627.2,651.3 627.8,655.0 628.4,650.1 629.0,653.5 629.6,648.9 630.2,652.5 630.8,657.1 631.4,647.3 632.0,656.5 632.6,661.0 633.2,649.2 633.8,650.1 634.4,652.4 635.0,651.1 635.6,644.0 636.2,656.2 636.8,654.8 637.4,657.5 638.0,655.4 638.6,646.1 639.2,649.2 639.8,645.9 640.4,662.5 641.0,647.4 641.6,656.7 642.2,661.2 642.8,649.3 643.4,651.8 644.0,653.1 644.6,662.0 645.2,641.3 645.8,652.3 646.4,653.5 647.0,653.7 647.6,644.7 648.2,657.1 648.8,654.0 649.4,643.5 650.0,643.3 650.6,662.6 651.2,646.5 651.8,639.9 652.4,653.6 653.0,643.5 653.6,650.7 654.2,654.3 654.8,644.5 655.4,641.1 656.0,662.9 656.6,641.6 657.2,642.5 657.8,650.8 658.4,654.0 659.0,650.3 659.6,644.3 660.2,657.7 660.8,642.5 661.4,644.6 662.0,656.0 662.6,658.8 663.2,654.4 663.8,658.0 664.4,654.0 665.0,657.4 665.6,645.2 666.2,645.0 666.8,655.5 667.4,659.1 668.0,647.6 668.6,644.8 669.2,649.7 669.8,659.8 670.4,650.2 671.0,648.8 671.6,649.6 672.2,648.5 672.8,655.1 673.4,647.5 674.0,651.9 674.6,649.0 675.2,644.5 675.8,651.2 676.4,653.3 677.0,637.7 677.6,652.8 678.2,652.9 678.8,649.9 679.4,642.3 680.0,645.6 680.6,656.5 681.2,643.6 681.8,659.0 682.4,647.4 683.0,653.5 683.6,637.1 684.2,654.9 684.8,651.7 685.4,636.6 686.0,658.4 686.6,645.8 687.2,639.8 687.8,661.4 688.4,661.4 689.0,658.4 689.6,656.6 690.2,659.1 690.8,635.2 691.4,647.6 692.0,661.1 692.6,653.8 693.2,649.8 693.8,646.7 694.4,646.3 695.0,643.0 695.6,648.8 696.2,636.5 696.8,658.5 697.4,650.4 698.0,637.6 698.6,650.8 699.2,652.6 699.8,650.4 700.4,656.5 701.0,657.4 701.6,656.2 702.2,640.2 702.8,640.6 703.4,647.2 704.0,658.6 704.6,641.0 705.2,649.1 705.8,648.7 706.4,651.7 707.0,642.1 707.6,656.5 708.2,651.0 708.8,658.8 709.4,653.7 710.0,652.7 710.6,659.4 711.2,661.3 711.8,656.3 712.4,648.6 713.0,655.3 713.6,659.8 714.2,658.1 714.8,663.3 715.4,660.5 716.0,650.8 716.6,663.9 717.2,657.0 717.8,656.7 718.4,653.0 719.0,642.3 719.6,638.3 720.2,655.4 720.8,657.8 721.4,662.5 722.0,642.2 722.6,647.6 723.2,643.6 723.8,652.1 724.4,640.2 725.0,639.0 725.6,633.3 726.2,642.6 726.8,650.7 727.4,633.3 728.0,639.3 728.6,652.3 729.2,637.2 729.8,631.3 730.4,636.7 731.0,647.0 731.6,642.6 732.2,637.7 732.8,639.2 733.4,649.3 734.0,637.4 734.6,652.6 735.2,644.3 735.8,650.7 736.4,642.8 737.0,644.8 737.6,661.3 738.2,651.0 738.8,647.0 739.4,656.5 740.0,649.3 740.6,647.9 741.2,648.7 741.8,650.7 742.4,660.9 743.0,645.4 743.6,656.0 744.2,646.1 744.8,656.8 745.4,651.8 746.0,656.9 746.6,653.2 747.2,658.1 747.8,657.1 748.4,656.0 749.0,656.4 749.6,651.1 750.2,650.7 750.8,647.7 751.4,654.0 752.0,652.3 752.6,648.5 753.2,641.2 753.8,647.4 754.4,650.7 755.0,652.4 755.6,640.7 756.2,650.9 756.8,633.7 757.4,639.3 758.0,632.9 758.6,645.1 759.2,634.9 759.8,636.6 760.4,652.8 761.0,652.9 761.6,629.8 762.2,653.2 762.8,651.4 763.4,652.1 764.0,640.6 764.6,655.8 765.2,649.6 765.8,633.8 766.4,631.9 767.0,637.1 767.6,649.9 768.2,659.4 768.8,635.6 769.4,651.3 770.0,648.7 770.6,649.1 771.2,653.6 771.8,657.1 772.4,649.6 773.0,662.3 773.6,656.3 774.2,659.6 774.8,660.0 775.4,641.0 776.0,663.0 776.6,640.8 777.2,650.4 777.8,646.5 778.4,640.3 779.0,647.9 779.6,633.2 780.2,654.5 780.8,647.3 781.4,640.9 782.0,649.9 782.6,651.6 783.2,646.4 783.8,631.4 784.4,652.5 785.0,650.6 785.6,663.4 786.2,663.2 786.8,659.7 787.4,653.0 788.0,651.4 788.6,642.1 789.2,642.6 789.8,637.7 790.4,639.4 791.0,638.5 791.6,659.0 792.2,661.4 792.8,635.0 793.4,648.5 794.0,636.8 794.6,639.5 795.2,648.4 795.8,648.4 796.4,660.2 797.0,650.5 797.6,644.1 798.2,639.1 798.8,652.8 799.4,642.9 800.0,645.5 800.6,636.9 801.2,658.2 801.8,652.1 802.4,658.2 803.0,644.1 803.6,649.4 804.2,646.3 804.8,642.1 805.4,653.5 806.0,638.8 806.6,646.2 807.2,643.2 807.8,650.4 808.4,640.6 809.0,648.2 809.6,643.1 810.2,645.3 810.8,645.1 811.4,660.4 812.0,640.0 812.6,657.6 813.2,643.6 813.8,660.4 814.4,648.3 815.0,654.9 815.6,634.7 816.2,657.7 816.8,645.2 817.4,640.2 818.0,646.0 818.6,656.0 819.2,641.7 819.8,646.3 820.4,651.4 821.0,650.2 821.6,639.9 822.2,636.1 822.8,650.5 823.4,647.7 824.0,649.6 824.6,651.5 825.2,644.5 825.8,649.5 826.4,638.5 827.0,641.5 827.6,645.2 828.2,639.6 828.8,643.2 829.4,656.4 830.0,644.7 830.6,650.5 831.2,647.3 831.8,639.8 832.4,649.6 833.0,636.2 833.6,646.0 834.2,642.4 834.8,637.2 835.4,644.6 836.0,636.7 836.6,651.0 837.2,624.3 837.8,649.9 838.4,645.7 839.0,639.8 839.6,618.9 840.2,616.1 840.8,616.1 841.4,635.3 842.0,628.7 842.6,645.5 843.2,636.7 843.8,642.4 844.4,615.0 845.0,637.1 845.6,641.1 846.2,648.4 846.8,625.0 847.4,647.9 848.0,630.9 848.6,642.2 849.2,643.4 849.8,647.7 850.4,645.4 851.0,644.4 851.6,641.2 852.2,640.5 852.8,638.0 853.4,644.0 854.0,640.4 854.6,654.0 855.2,638.5 855.8,652.5 856.4,644.7 857.0,639.6 857.6,646.9 858.2,633.2 858.8,648.2 859.4,645.1 860.0,641.1 860.6,647.0 861.2,648.9 861.8,650.5 862.4,643.5 863.0,639.5 863.6,643.7 864.2,634.0 864.8,644.3 865.4,638.0 866.0,638.4 866.6,638.0 867.2,635.3 867.8,634.6 868.4,634.9 869.0,630.7 869.6,636.7 870.2,624.0 870.8,628.5 871.4,631.8 872.0,631.5 872.6,626.8 873.2,640.1 873.8,640.0 874.4,630.8 875.0,636.4 875.6,620.6 876.2,639.0 876.8,633.2 877.4,638.1 878.0,636.2 878.6,631.9 879.2,628.3 879.8,616.8 880.4,614.8 881.0,617.5 881.6,630.6 882.2,625.5 882.8,619.9 883.4,618.6 884.0,627.7 884.6,621.4 885.2,633.4 885.8,617.8 886.4,611.8 887.0,606.4 887.6,611.9 888.2,621.8 888.8,604.4 889.4,623.3 890.0,622.6 890.6,604.6 891.2,619.6 891.8,601.9 892.4,615.9 893.0,609.5 893.6,620.1 894.2,603.1 894.8,611.3 895.4,618.4 896.0,607.5 896.6,608.4 897.2,604.0 897.8,623.5 898.6,599.7 899.0,620.9 899.6,622.9 900.2,619.2 900.8,619.0 901.4,608.8 902.0,616.1 902.6,623.1 903.2,604.8 903.8,608.4 904.4,626.9 905.0,635.4 905.6,625.5 906.2,621.3 906.8,634.6 907.4,630.2 908.0,633.9 908.6,628.9 909.2,624.4 909.8,629.2 910.4,634.1 911.0,631.8 911.6,614.5 912.2,637.0 912.8,624.1 913.4,620.5 914.0,621.4 914.6,631.2 915.2,620.8 915.8,624.7 916.4,632.6 917.0,635.6 917.6,640.3 918.2,633.2 918.8,630.0 919.4,630.0 920.0,637.8 920.6,635.0 921.2,636.3 921.8,631.8 922.4,631.4 923.0,632.8 923.6,637.3 924.2,638.3 924.8,644.2 925.4,640.8 926.0,638.6 926.6,644.3 927.2,631.9 927.8,635.8 928.4,642.7 929.0,644.7 929.6,641.1 930.2,633.8 930.8,634.0 931.4,642.7 932.0,644.2 932.6,631.3 933.2,639.2 933.8,641.5 934.4,648.9 935.0,649.8 935.6,639.2 936.2,635.2 936.8,640.6 937.4,637.1 938.0,636.0 938.6,647.3 939.2,642.0 939.8,628.1 940.4,641.3 941.0,646.2 941.6,628.5 942.2,656.5 942.8,645.3 943.4,641.8 944.0,636.5 944.6,652.0 945.2,652.5 945.8,636.5 946.4,630.5 947.0,653.8 947.6,643.0 948.2,634.0 948.8,656.2 949.4,638.7 950.0,646.7 950.6,641.7 951.2,643.2 951.8,651.8 952.4,660.5 953.0,648.4 953.6,656.8 954.2,649.9 954.8,648.4 955.4,649.6 956.0,640.3 956.6,652.1 957.2,638.7 957.8,632.7 958.4,638.8 959.0,638.0 959.6,635.0 960.2,643.7 960.8,653.8 961.4,639.8 962.0,635.6 962.6,651.8 963.2,653.1 963.8,637.7 964.4,643.2 965.0,639.2 965.6,636.3 966.2,652.4 966.8,651.0 967.4,656.1 968.0,658.1 968.6,638.3 969.2,638.7 969.8,646.1 970.4,662.5 971.0,646.5 971.6,656.9 972.2,634.5 972.8,663.8 973.4,663.7 974.0,661.1 974.6,655.4 975.2,643.5 975.8,658.9 976.4,644.1 977.0,644.9 977.6,646.5 978.2,648.8 978.8,652.9 979.4,648.4 980.0,650.7 980.6,647.8 981.2,651.9 981.8,649.0 982.4,640.3 983.0,660.1 983.6,654.7 984.2,655.2 984.8,653.6 985.4,647.7 986.0,650.8 986.6,655.5 987.2,658.4 987.8,655.2 988.4,651.3 989.0,652.5 989.6,649.1 990.2,651.1 990.8,651.4 991.4,649.6 992.0,652.3 992.6,656.0 993.2,648.8 993.8,646.3 994.4,648.0 995.0,654.2 995.6,647.2 996.2,658.7 996.8,661.5 997.4,649.9 998.0,636.2 998.6,651.4 999.2,633.3 999.8,642.0 1000.4,658.7 1001.1,618.6 1001.6,617.0 1002.2,637.7 1002.8,626.1 1003.4,660.4 1004.0,647.6 1004.6,639.6 1005.2,648.9 1005.8,647.8 1006.4,644.1 1007.0,642.7 1007.6,650.4 1008.2,645.7 1008.8,647.7 1009.4,651.8 1010.0,653.6 1010.6,644.0 1011.2,647.8 1011.8,642.6 1012.4,641.0 1013.0,651.6 1013.6,653.8 1014.2,647.2 1014.8,646.1" stroke="#000" stroke-width="3.4"/>
</g>
<line x1="240.2" y1="658" x2="240.2" y2="666" stroke="#000" stroke-width="4.2" stroke-linecap="round"/><line x1="412.6" y1="658" x2="412.6" y2="666" stroke="#000" stroke-width="4.2" stroke-linecap="round"/><line x1="585.0" y1="658" x2="585.0" y2="666" stroke="#000" stroke-width="4.2" stroke-linecap="round"/><line x1="757.4" y1="658" x2="757.4" y2="666" stroke="#000" stroke-width="4.2" stroke-linecap="round"/><line x1="929.8" y1="658" x2="929.8" y2="666" stroke="#000" stroke-width="4.2" stroke-linecap="round"/>
<path d="M204.8,219.5 L211.2,236.5 L198.4,236.5Z" fill="#D24816" stroke="#D24816" stroke-width="1.2" stroke-linejoin="round"/><path d="M226.2,206.8 L232.6,223.8 L219.8,223.8Z" fill="#D24816" stroke="#D24816" stroke-width="1.2" stroke-linejoin="round"/><path d="M289.4,168.6 L295.8,185.6 L283.0,185.6Z" fill="#D24816" stroke="#D24816" stroke-width="1.2" stroke-linejoin="round"/><path d="M732.8,205.6 L739.2,222.6 L726.4,222.6Z" fill="#D24816" stroke="#D24816" stroke-width="1.2" stroke-linejoin="round"/><path d="M347.6,106.7 L356.1,115.7 L347.6,124.7 L339.1,115.7Z" fill="#D24816" stroke="#D24816" stroke-width="1" stroke-linejoin="round"/><path d="M439.1,108.6 L447.6,117.6 L439.1,126.6 L430.6,117.6Z" fill="#D24816" stroke="#D24816" stroke-width="1" stroke-linejoin="round"/><path d="M490.5,170.8 L499.0,179.8 L490.5,188.8 L482.0,179.8Z" fill="#D24816" stroke="#D24816" stroke-width="1" stroke-linejoin="round"/><path d="M404.5,53.3 L417.3,53.3 L410.9,70.3Z" fill="#D24816" stroke="#D24816" stroke-width="1.2" stroke-linejoin="round"/><path d="M524.2,178.9 L537.0,178.9 L530.6,195.9Z" fill="#D24816" stroke="#D24816" stroke-width="1.2" stroke-linejoin="round"/><rect x="420.0" y="80.2" width="13.8" height="13.8" rx="1" fill="#D24816"/><rect x="507.6" y="184.1" width="13.8" height="13.8" rx="1" fill="#D24816"/><rect x="596.9" y="217.8" width="13.8" height="13.8" rx="1" fill="#D24816"/><rect x="754.1" y="208.5" width="13.8" height="13.8" rx="1" fill="#D24816"/><circle cx="541.5" cy="204.4" r="7" fill="#D24816"/><circle cx="715.6" cy="221.8" r="7" fill="#D24816"/><circle cx="881.1" cy="221.2" r="7" fill="#D24816"/><circle cx="658" cy="41.1" r="7" fill="#D24816"/><rect x="651.5" y="83.0" width="13.8" height="13.8" rx="1" fill="#D24816"/><path d="M973.6,37.5 L986.4,37.5 L980.0,54.5Z" fill="#D24816" stroke="#D24816" stroke-width="1.2" stroke-linejoin="round"/><path d="M980.4,83.3 L989.0,92.8 L980.4,102.3 L971.8,92.8Z" fill="#D24816" stroke="#D24816" stroke-width="1" stroke-linejoin="round"/><path d="M980.2,132.1 L986.7,149.9 L973.7,149.9Z" fill="#D24816" stroke="#D24816" stroke-width="1.2" stroke-linejoin="round"/>
<g font-family='"Liberation Sans", sans-serif' font-size="42.2" fill="#000" transform="translate(0,726) scale(1,1.035) translate(0,-726)"><text x="67.7" y="725.9" text-anchor="middle">20</text><text x="240.0" y="725.9" text-anchor="middle">30</text><text x="412.3" y="725.9" text-anchor="middle">40</text><text x="584.6" y="725.9" text-anchor="middle">50</text><text x="756.9" y="725.9" text-anchor="middle">60</text><text x="929.2" y="725.9" text-anchor="middle">70</text></g>
<text transform="translate(46.9,482.4) rotate(-90)" font-family='"Liberation Sans", sans-serif' font-size="47.3" fill="#000">Intensity (a.u)</text>
<text x="455.5" y="776.5" font-size="49.0" fill="#000"><tspan font-family='"Liberation Sans", sans-serif'>2</tspan><tspan font-family='"Liberation Serif", serif'>θ(°)</tspan></text>
<g font-family='"Liberation Sans", sans-serif' font-size="37">
<text x="653.5" y="245.9" font-size="37.5" fill="#808080">3X</text>
<text x="655" y="374.8" fill="#3838FF">2X</text>
<text x="655" y="481.8" fill="#FF0000">1X</text>
<text x="600" y="615.6" font-size="36.8" fill="#000">Without additive</text>
</g>
<g font-family='"Liberation Serif", serif' font-weight="bold" font-size="40.5" fill="#000">
<g transform="translate(0,55.2) scale(1,1.03) translate(0,-55.2)"><text x="643" y="55.2" text-anchor="end">Pt<tspan font-size="27.5" dy="9">3</tspan><tspan dy="-9">Mn</tspan></text></g>
<g transform="translate(0,104) scale(1,1.03) translate(0,-104)"><text x="643" y="104" text-anchor="end">PtMn</text></g>
<g transform="translate(0,55.2) scale(1,1.03) translate(0,-55.2)"><text x="961" y="55.2" text-anchor="end">Pt<tspan font-size="27.5" dy="9">0.63</tspan><tspan dy="-9">Mn</tspan><tspan font-size="27.5" dy="9">0.37</tspan></text></g>
<g transform="translate(0,104) scale(1,1.03) translate(0,-104)"><text x="961" y="104" text-anchor="end">PtMn<tspan font-size="27.5" dy="9">3</tspan></text></g>
<g transform="translate(0,152.5) scale(1,1.03) translate(0,-152.5)"><text x="961" y="152.5" text-anchor="end">Mn or Pt oxides</text></g>
</g>
</svg>
</body></html>
